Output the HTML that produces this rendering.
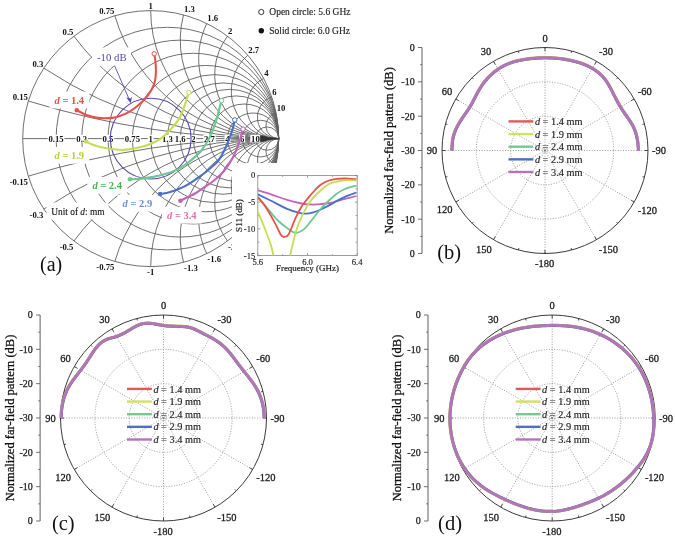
<!DOCTYPE html>
<html><head><meta charset="utf-8"><style>
html,body{margin:0;padding:0;background:#fff;}
svg{display:block;will-change:transform;}
</style></head><body>
<svg width="675" height="538" viewBox="0 0 675 538">
<rect width="675" height="538" fill="#fff"/>
<g fill="none" stroke="#606060" stroke-width="0.9">
<circle cx="150.7" cy="138.6" r="128.0"/>
<line x1="22.69999999999999" y1="138.6" x2="278.7" y2="138.6"/>
<circle cx="167.4" cy="138.6" r="111.3"/>
<circle cx="180.24" cy="138.6" r="98.46"/>
<circle cx="193.37" cy="138.6" r="85.33"/>
<circle cx="205.56" cy="138.6" r="73.14"/>
<circle cx="214.7" cy="138.6" r="64"/>
<circle cx="223.05" cy="138.6" r="55.65"/>
<circle cx="229.47" cy="138.6" r="49.23"/>
<circle cx="236.03" cy="138.6" r="42.67"/>
<circle cx="244.11" cy="138.6" r="34.59"/>
<circle cx="253.1" cy="138.6" r="25.6"/>
<circle cx="260.41" cy="138.6" r="18.29"/>
<circle cx="267.06" cy="138.6" r="11.64"/>
<path d="M28.33,101.04 A853.33,853.33 0 0 0 278.7,138.6"/>
<path d="M28.33,176.16 A853.33,853.33 0 0 1 278.7,138.6"/>
<path d="M43.84,68.14 A426.67,426.67 0 0 0 278.7,138.6"/>
<path d="M43.84,209.06 A426.67,426.67 0 0 1 278.7,138.6"/>
<path d="M73.9,36.2 A256,256 0 0 0 278.7,138.6"/>
<path d="M73.9,241 A256,256 0 0 1 278.7,138.6"/>
<path d="M114.86,15.72 A170.67,170.67 0 0 0 278.7,138.6"/>
<path d="M114.86,261.48 A170.67,170.67 0 0 1 278.7,138.6"/>
<path d="M150.7,10.6 A128,128 0 0 0 278.7,138.6"/>
<path d="M150.7,266.6 A128,128 0 0 1 278.7,138.6"/>
<path d="M183.53,14.88 A98.46,98.46 0 0 0 278.7,138.6"/>
<path d="M183.53,262.32 A98.46,98.46 0 0 1 278.7,138.6"/>
<path d="M206.79,23.54 A80,80 0 0 0 278.7,138.6"/>
<path d="M206.79,253.66 A80,80 0 0 1 278.7,138.6"/>
<path d="M227.5,36.2 A64,64 0 0 0 278.7,138.6"/>
<path d="M227.5,241 A64,64 0 0 1 278.7,138.6"/>
<path d="M247.82,55.22 A47.41,47.41 0 0 0 278.7,138.6"/>
<path d="M247.82,221.98 A47.41,47.41 0 0 1 278.7,138.6"/>
<path d="M263.64,78.36 A32,32 0 0 0 278.7,138.6"/>
<path d="M263.64,198.84 A32,32 0 0 1 278.7,138.6"/>
<path d="M271.78,97.09 A21.33,21.33 0 0 0 278.7,138.6"/>
<path d="M271.78,180.11 A21.33,21.33 0 0 1 278.7,138.6"/>
<path d="M276.17,113.25 A12.8,12.8 0 0 0 278.7,138.6"/>
<path d="M276.17,163.95 A12.8,12.8 0 0 1 278.7,138.6"/>
</g>
<g font-family="'Liberation Serif',serif">
<text x="27.83" y="99.54" text-anchor="end" font-size="8.7" font-weight="bold" fill="#111" >0.15</text>
<text x="43.34" y="66.64" text-anchor="end" font-size="8.7" font-weight="bold" fill="#111" >0.3</text>
<text x="73.4" y="34.7" text-anchor="end" font-size="8.7" font-weight="bold" fill="#111" >0.5</text>
<text x="114.36" y="14.22" text-anchor="end" font-size="8.7" font-weight="bold" fill="#111" >0.75</text>
<text x="150.7" y="8.6" text-anchor="middle" font-size="8.7" font-weight="bold" fill="#111" >1</text>
<text x="184.03" y="12.38" text-anchor="start" font-size="8.7" font-weight="bold" fill="#111" >1.3</text>
<text x="207.29" y="21.04" text-anchor="start" font-size="8.7" font-weight="bold" fill="#111" >1.6</text>
<text x="228" y="33.7" text-anchor="start" font-size="8.7" font-weight="bold" fill="#111" >2</text>
<text x="248.32" y="52.72" text-anchor="start" font-size="8.7" font-weight="bold" fill="#111" >2.7</text>
<text x="264.14" y="75.86" text-anchor="start" font-size="8.7" font-weight="bold" fill="#111" >4</text>
<text x="272.28" y="94.59" text-anchor="start" font-size="8.7" font-weight="bold" fill="#111" >6</text>
<text x="276.67" y="110.75" text-anchor="start" font-size="8.7" font-weight="bold" fill="#111" >10</text>
<text x="27.83" y="184.66" text-anchor="end" font-size="8.7" font-weight="bold" fill="#111" >-0.15</text>
<text x="43.34" y="217.56" text-anchor="end" font-size="8.7" font-weight="bold" fill="#111" >-0.3</text>
<text x="73.4" y="249.5" text-anchor="end" font-size="8.7" font-weight="bold" fill="#111" >-0.5</text>
<text x="114.36" y="269.98" text-anchor="end" font-size="8.7" font-weight="bold" fill="#111" >-0.75</text>
<text x="150.7" y="275.1" text-anchor="middle" font-size="8.7" font-weight="bold" fill="#111" >-1</text>
<text x="184.03" y="270.82" text-anchor="start" font-size="8.7" font-weight="bold" fill="#111" >-1.3</text>
<text x="207.29" y="262.16" text-anchor="start" font-size="8.7" font-weight="bold" fill="#111" >-1.6</text>
<text x="228" y="249.5" text-anchor="start" font-size="8.7" font-weight="bold" fill="#111" >-2</text>
<text x="248.32" y="230.48" text-anchor="start" font-size="8.7" font-weight="bold" fill="#111" >-2.7</text>
<rect x="47.69" y="134.8" width="16.8" height="7.6" fill="#fff"/>
<text x="56.09" y="141.7" text-anchor="middle" font-size="8.7" font-weight="bold" fill="#111" >0.15</text>
<rect x="75.55" y="134.8" width="12.45" height="7.6" fill="#fff"/>
<text x="81.78" y="141.7" text-anchor="middle" font-size="8.7" font-weight="bold" fill="#111" >0.3</text>
<rect x="101.81" y="134.8" width="12.45" height="7.6" fill="#fff"/>
<text x="108.03" y="141.7" text-anchor="middle" font-size="8.7" font-weight="bold" fill="#111" >0.5</text>
<rect x="124.01" y="134.8" width="16.8" height="7.6" fill="#fff"/>
<text x="132.41" y="141.7" text-anchor="middle" font-size="8.7" font-weight="bold" fill="#111" >0.75</text>
<rect x="147.72" y="134.8" width="5.95" height="7.6" fill="#fff"/>
<text x="150.7" y="141.7" text-anchor="middle" font-size="8.7" font-weight="bold" fill="#111" >1</text>
<rect x="161.17" y="134.8" width="12.45" height="7.6" fill="#fff"/>
<text x="167.4" y="141.7" text-anchor="middle" font-size="8.7" font-weight="bold" fill="#111" >1.3</text>
<rect x="174.01" y="134.8" width="12.45" height="7.6" fill="#fff"/>
<text x="180.24" y="141.7" text-anchor="middle" font-size="8.7" font-weight="bold" fill="#111" >1.6</text>
<rect x="190.39" y="134.8" width="5.95" height="7.6" fill="#fff"/>
<text x="193.37" y="141.7" text-anchor="middle" font-size="8.7" font-weight="bold" fill="#111" >2</text>
<rect x="203.29" y="134.8" width="12.45" height="7.6" fill="#fff"/>
<text x="209.51" y="141.7" text-anchor="middle" font-size="8.7" font-weight="bold" fill="#111" >2.7</text>
<rect x="224.52" y="134.8" width="5.95" height="7.6" fill="#fff"/>
<text x="227.5" y="141.7" text-anchor="middle" font-size="8.7" font-weight="bold" fill="#111" >4</text>
<rect x="239.15" y="134.8" width="5.95" height="7.6" fill="#fff"/>
<text x="242.13" y="141.7" text-anchor="middle" font-size="8.7" font-weight="bold" fill="#111" >6</text>
<rect x="250.28" y="134.8" width="10.3" height="7.6" fill="#fff"/>
<text x="255.43" y="141.7" text-anchor="middle" font-size="8.7" font-weight="bold" fill="#111" >10</text>
</g>
<path d="M259.8,135.2 L263.5,135.6 L268,137.2 L278.6,138.4 L278.6,138.9 L268,140.1 L263.5,141.7 L259.8,142.1 Z" fill="#222" fill-opacity="0.75"/>
<circle cx="150.7" cy="138.6" r="40.4" fill="none" stroke="#5a48ac" stroke-width="1.1"/>
<rect x="92" y="47.5" width="39" height="18.5" fill="#fff"/>
<text x="97" y="60.5" font-size="10.8" fill="#5a48ac" font-family="'Liberation Serif',serif">-10 dB</text>
<line x1="114.5" y1="65.5" x2="129" y2="99" stroke="#5a48ac" stroke-width="0.9"/>
<path d="M130.6,103.2 L126.3,97.6 L130.6,98.6 L132.2,96.6 Z" fill="#5a48ac"/>
<rect x="49.5" y="91.6" width="39.8" height="16.8" fill="#fff"/>
<text x="54.5" y="103.7" font-size="10.5" font-weight="bold" fill="#e8504a" font-family="'Liberation Serif',serif"><tspan font-style="italic">d</tspan> = 1.4</text>
<rect x="49.5" y="146.9" width="39.8" height="16.8" fill="#fff"/>
<text x="54.5" y="159" font-size="10.5" font-weight="bold" fill="#b8d040" font-family="'Liberation Serif',serif"><tspan font-style="italic">d</tspan> = 1.9</text>
<rect x="87.4" y="177" width="39.8" height="16.8" fill="#fff"/>
<text x="92.4" y="189.1" font-size="10.5" font-weight="bold" fill="#46b04c" font-family="'Liberation Serif',serif"><tspan font-style="italic">d</tspan> = 2.4</text>
<rect x="117.6" y="194.8" width="39.8" height="16.8" fill="#fff"/>
<text x="122.6" y="206.9" font-size="10.5" font-weight="bold" fill="#6f8fd6" font-family="'Liberation Serif',serif"><tspan font-style="italic">d</tspan> = 2.9</text>
<rect x="162" y="206.8" width="39.8" height="16.8" fill="#fff"/>
<text x="167" y="218.9" font-size="10.5" font-weight="bold" fill="#e070b4" font-family="'Liberation Serif',serif"><tspan font-style="italic">d</tspan> = 3.4</text>
<rect x="46.5" y="202.5" width="62" height="17" fill="#fff"/>
<text x="51.2" y="214.8" font-size="9.4" fill="#222" stroke="#222" stroke-width="0.15" font-family="'Liberation Serif',serif">Unit of <tspan font-style="italic">d</tspan>: mm</text>
<path d="M154.2,53.7 C154.42,55.08 155.22,58.95 155.5,62 C155.78,65.05 155.98,68.83 155.9,72 C155.82,75.17 155.6,78.28 155,81 C154.4,83.72 153.38,86.05 152.3,88.3 C151.22,90.55 149.8,92.62 148.5,94.5 C147.2,96.38 146.35,97.68 144.5,99.6 C142.65,101.52 139.82,104.05 137.4,106 C134.98,107.95 132.73,109.7 130,111.3 C127.27,112.9 124,114.5 121,115.6 C118,116.7 115.87,117.52 112,117.9 C108.13,118.28 102.05,118.38 97.8,117.9 C93.55,117.42 90,116.27 86.5,115 C83,113.73 78.42,111.08 76.8,110.3" fill="none" stroke="#e8504a" stroke-width="2.1" stroke-linecap="round"/>
<circle cx="154.2" cy="53.7" r="2.2" fill="#fff" stroke="#e8504a" stroke-width="1"/>
<circle cx="76.8" cy="110.3" r="2.3" fill="#e8504a"/>
<path d="M188.8,92.5 C188.45,93.62 187.65,96.3 186.7,99.2 C185.75,102.1 184.58,106.33 183.1,109.9 C181.62,113.47 180.17,117.05 177.8,120.6 C175.43,124.15 171.87,128.1 168.9,131.2 C165.93,134.3 162.97,137.12 160,139.2 C157.03,141.28 154.65,142.3 151.1,143.7 C147.55,145.1 143.15,146.57 138.7,147.6 C134.25,148.63 128.85,149.67 124.4,149.9 C119.95,150.13 115.85,149.45 112,149 C108.15,148.55 104.57,147.93 101.3,147.2 C98.03,146.47 94.92,145.55 92.4,144.6 C89.88,143.65 87.23,142.02 86.2,141.5" fill="none" stroke="#c8dc50" stroke-width="2.1" stroke-linecap="round"/>
<circle cx="188.8" cy="92.5" r="2.2" fill="#fff" stroke="#c8dc50" stroke-width="1"/>
<circle cx="86.2" cy="141.5" r="2.3" fill="#c8dc50"/>
<path d="M221.5,100.6 C221.18,101.75 220.52,104.08 219.6,107.5 C218.68,110.92 217.62,116.2 216,121.1 C214.38,126 212.4,131.92 209.9,136.9 C207.4,141.88 204.32,146.98 201,151 C197.68,155.02 193.55,158.12 190,161 C186.45,163.88 183.03,166.38 179.7,168.3 C176.37,170.22 172.73,171.48 170,172.5 C167.27,173.52 166.38,173.63 163.3,174.4 C160.22,175.17 155.45,176.35 151.5,177.1 C147.55,177.85 143.18,178.55 139.6,178.9 C136.02,179.25 131.6,179.15 130,179.2" fill="none" stroke="#6cc890" stroke-width="2.1" stroke-linecap="round"/>
<circle cx="221.5" cy="100.6" r="2.2" fill="#fff" stroke="#6cc890" stroke-width="1"/>
<circle cx="130" cy="179.2" r="2.3" fill="#6cc890"/>
<path d="M234.8,119.9 C234.28,121.92 233.23,127.37 231.7,132 C230.17,136.63 227.82,142.95 225.6,147.7 C223.38,152.45 221,157.03 218.4,160.5 C215.8,163.97 212.75,166.08 210,168.5 C207.25,170.92 205.23,172.53 201.9,175 C198.57,177.47 193.97,180.92 190,183.3 C186.03,185.68 181.55,187.82 178.1,189.3 C174.65,190.78 172.3,191.42 169.3,192.2 C166.3,192.98 161.63,193.7 160.1,194" fill="none" stroke="#4a70c8" stroke-width="2.1" stroke-linecap="round"/>
<circle cx="234.8" cy="119.9" r="2.2" fill="#fff" stroke="#4a70c8" stroke-width="1"/>
<circle cx="160.1" cy="194" r="2.3" fill="#4a70c8"/>
<path d="M243,129.1 C242.33,131.4 240.68,138.18 239,142.9 C237.32,147.62 235.4,152.72 232.9,157.4 C230.4,162.08 227.15,167.15 224,171 C220.85,174.85 217.2,177.87 214,180.5 C210.8,183.13 207.82,184.72 204.8,186.8 C201.78,188.88 198.87,191.23 195.9,193 C192.93,194.77 189.58,196.12 187,197.4 C184.42,198.68 181.5,200.15 180.4,200.7" fill="none" stroke="#c464b8" stroke-width="2.1" stroke-linecap="round"/>
<circle cx="243" cy="129.1" r="2.2" fill="#fff" stroke="#c464b8" stroke-width="1"/>
<circle cx="180.4" cy="200.7" r="2.3" fill="#c464b8"/>
<circle cx="261.3" cy="12" r="2.6" fill="#fff" stroke="#222" stroke-width="0.9"/>
<circle cx="261.3" cy="30.7" r="2.7" fill="#111"/>
<text x="269.3" y="15.2" font-size="9.5" fill="#222" stroke="#222" stroke-width="0.15" font-family="'Liberation Serif',serif">Open circle:  5.6 GHz</text>
<text x="269.3" y="33.9" font-size="9.5" fill="#222" stroke="#222" stroke-width="0.15" font-family="'Liberation Serif',serif">Solid circle: 6.0 GHz</text>
<rect x="232" y="163" width="132" height="113" fill="#fff"/>
<rect x="257.8" y="175.4" width="99.4" height="80.2" fill="none" stroke="#888" stroke-width="0.8"/>
<path d="M257.8,175.4 h2.5 M357.2,175.4 h-2.5 M257.8,202.13 h2.5 M357.2,202.13 h-2.5 M257.8,228.87 h2.5 M357.2,228.87 h-2.5 M257.8,255.6 h2.5 M357.2,255.6 h-2.5 M257.8,188.77 h1.5 M357.2,188.77 h-1.5 M257.8,215.5 h1.5 M357.2,215.5 h-1.5 M257.8,242.23 h1.5 M357.2,242.23 h-1.5 M257.8,255.6 v-2.5 M257.8,175.4 v2.5 M307.5,255.6 v-2.5 M307.5,175.4 v2.5 M357.2,255.6 v-2.5 M357.2,175.4 v2.5 M282.65,255.6 v-1.5 M282.65,175.4 v1.5 M332.35,255.6 v-1.5 M332.35,175.4 v1.5" stroke="#888" stroke-width="0.8" fill="none"/>
<text x="255.3" y="178.4" text-anchor="end" font-size="8.6" fill="#222" stroke="#222" stroke-width="0.15" font-family="'Liberation Serif',serif">0</text>
<text x="255.3" y="205.13" text-anchor="end" font-size="8.6" fill="#222" stroke="#222" stroke-width="0.15" font-family="'Liberation Serif',serif">-5</text>
<text x="255.3" y="231.87" text-anchor="end" font-size="8.6" fill="#222" stroke="#222" stroke-width="0.15" font-family="'Liberation Serif',serif">-10</text>
<text x="255.3" y="258.6" text-anchor="end" font-size="8.6" fill="#222" stroke="#222" stroke-width="0.15" font-family="'Liberation Serif',serif">-15</text>
<text x="257.8" y="264.6" text-anchor="middle" font-size="8.6" fill="#222" stroke="#222" stroke-width="0.15" font-family="'Liberation Serif',serif">5.6</text>
<text x="307.5" y="264.6" text-anchor="middle" font-size="8.6" fill="#222" stroke="#222" stroke-width="0.15" font-family="'Liberation Serif',serif">6.0</text>
<text x="357.2" y="264.6" text-anchor="middle" font-size="8.6" fill="#222" stroke="#222" stroke-width="0.15" font-family="'Liberation Serif',serif">6.4</text>
<text x="307.5" y="271.3" text-anchor="middle" font-size="9.0" fill="#222" stroke="#222" stroke-width="0.2" font-family="'Liberation Serif',serif">Frequency (GHz)</text>
<text transform="translate(241.6,215.5) rotate(-90)" text-anchor="middle" font-size="9.1" fill="#222" stroke="#222" stroke-width="0.2" font-family="'Liberation Serif',serif">S11 (dB)</text>
<clipPath id="ic"><rect x="257.8" y="175.4" width="99.4" height="80.2"/></clipPath>
<g clip-path="url(#ic)">
<path d="M257.9,190.4 C260.08,191.07 266.15,192.83 271,194.4 C275.85,195.97 282.28,198.37 287,199.8 C291.72,201.23 295.7,202.23 299.3,203 C302.9,203.77 305.5,204.17 308.6,204.4 C311.7,204.63 314.33,204.63 317.9,204.4 C321.47,204.17 326.82,203.55 330,203 C333.18,202.45 334.5,201.78 337,201.1 C339.5,200.42 341.75,199.75 345,198.9 C348.25,198.05 354.58,196.48 356.5,196" fill="none" stroke="#c464b8" stroke-width="1.8"/>
<path d="M257.9,194.4 C260.08,195.47 266.15,198.4 271,200.8 C275.85,203.2 282.28,206.8 287,208.8 C291.72,210.8 296.17,211.98 299.3,212.8 C302.43,213.62 303.47,213.78 305.8,213.7 C308.13,213.62 310.82,213 313.3,212.3 C315.78,211.6 317.92,210.73 320.7,209.5 C323.48,208.27 327.28,206.35 330,204.9 C332.72,203.45 334.5,202.15 337,200.8 C339.5,199.45 341.75,198.18 345,196.8 C348.25,195.42 354.58,193.22 356.5,192.5" fill="none" stroke="#4a70c8" stroke-width="1.8"/>
<path d="M257.9,196.8 C259.55,198.8 264.55,204.93 267.8,208.8 C271.05,212.67 274.2,216.8 277.4,220 C280.6,223.2 283.97,225.87 287,228 C290.03,230.13 292.77,232.62 295.6,232.8 C298.43,232.98 301.52,230.97 304,229.1 C306.48,227.23 308.33,224.23 310.5,221.6 C312.67,218.97 314.83,215.93 317,213.3 C319.17,210.67 321.33,208.1 323.5,205.8 C325.67,203.5 327.75,201.55 330,199.5 C332.25,197.45 334.5,195.25 337,193.5 C339.5,191.75 341.75,190.32 345,189 C348.25,187.68 354.58,186.17 356.5,185.6" fill="none" stroke="#6cc890" stroke-width="1.8"/>
<path d="M257.9,197.6 C259.02,198.93 261.88,201.6 264.6,205.6 C267.32,209.6 271.53,216.8 274.2,221.6 C276.87,226.4 279,231.87 280.6,234.4 C282.2,236.93 282.47,236.8 283.8,236.8 C285.13,236.8 286.63,237.55 288.6,234.4 C290.57,231.25 293.35,222.67 295.6,217.9 C297.85,213.13 299.93,209.22 302.1,205.8 C304.27,202.38 306.43,200.03 308.6,197.4 C310.77,194.77 313.03,192.15 315.1,190 C317.17,187.85 318.68,186.08 321,184.5 C323.32,182.92 326.33,181.43 329,180.5 C331.67,179.57 334.33,179.23 337,178.9 C339.67,178.57 341.75,178.45 345,178.5 C348.25,178.55 354.58,179.08 356.5,179.2" fill="none" stroke="#e8504a" stroke-width="1.8"/>
<path d="M257.9,212 C259.02,214.67 262.42,222.4 264.6,228 C266.78,233.6 269.53,241.02 271,245.6 C272.47,250.18 272.82,252.77 273.4,255.5 C273.98,258.23 274.32,260.92 274.5,262" fill="none" stroke="#c8dc50" stroke-width="1.8"/>
<path d="M289.3,262 C289.45,260.92 289.47,259.17 290.2,255.5 C290.93,251.83 292.5,244.72 293.7,240 C294.9,235.28 295.82,231.65 297.4,227.2 C298.98,222.75 301.07,217.58 303.2,213.3 C305.33,209.02 307.32,205.3 310.2,201.5 C313.08,197.7 317.37,193.42 320.5,190.5 C323.63,187.58 326.25,185.5 329,184 C331.75,182.5 334.33,182.12 337,181.5 C339.67,180.88 341.75,180.47 345,180.3 C348.25,180.13 354.58,180.47 356.5,180.5" fill="none" stroke="#c8dc50" stroke-width="1.8"/>
</g>
<text x="40" y="270.5" font-size="20" fill="#111" font-family="'Liberation Serif',serif">(a)</text>
<g font-family="'Liberation Serif',serif">
<g fill="none" stroke="#7a7a7a" stroke-width="0.75" stroke-dasharray="1,1.6">
<circle cx="545" cy="150.5" r="34.33"/>
<circle cx="545" cy="150.5" r="68.67"/>
<circle cx="545" cy="150.5" r="2.2"/>
<line x1="545" y1="150.5" x2="545" y2="47.5"/>
<line x1="545" y1="150.5" x2="596.5" y2="61.3"/>
<line x1="545" y1="150.5" x2="634.2" y2="99"/>
<line x1="545" y1="150.5" x2="648" y2="150.5"/>
<line x1="545" y1="150.5" x2="634.2" y2="202"/>
<line x1="545" y1="150.5" x2="596.5" y2="239.7"/>
<line x1="545" y1="150.5" x2="545" y2="253.5"/>
<line x1="545" y1="150.5" x2="493.5" y2="239.7"/>
<line x1="545" y1="150.5" x2="455.8" y2="202"/>
<line x1="545" y1="150.5" x2="442" y2="150.5"/>
<line x1="545" y1="150.5" x2="455.8" y2="99"/>
<line x1="545" y1="150.5" x2="493.5" y2="61.3"/>
</g>
<circle cx="545" cy="150.5" r="103" fill="none" stroke="#3a3a3a" stroke-width="1.0"/>
<path d="M545,47.5 L545,51 M571.66,51.01 L571.14,52.94 M596.5,61.3 L594.75,64.33 M617.83,77.67 L616.42,79.08 M634.2,99 L631.17,100.75 M644.49,123.84 L642.56,124.36 M648,150.5 L644.5,150.5 M644.49,177.16 L642.56,176.64 M634.2,202 L631.17,200.25 M617.83,223.33 L616.42,221.92 M596.5,239.7 L594.75,236.67 M571.66,249.99 L571.14,248.06 M545,253.5 L545,250 M518.34,249.99 L518.86,248.06 M493.5,239.7 L495.25,236.67 M472.17,223.33 L473.58,221.92 M455.8,202 L458.83,200.25 M445.51,177.16 L447.44,176.64 M442,150.5 L445.5,150.5 M445.51,123.84 L447.44,124.36 M455.8,99 L458.83,100.75 M472.17,77.67 L473.58,79.08 M493.5,61.3 L495.25,64.33 M518.34,51.01 L518.86,52.94" stroke="#333" stroke-width="0.9"/>
<text x="545" y="41.6" text-anchor="middle" font-size="10.5" fill="#1a1a1a" stroke="#1a1a1a" stroke-width="0.28">0</text>
<text x="486.1" y="55.2" text-anchor="middle" font-size="10.5" fill="#1a1a1a" stroke="#1a1a1a" stroke-width="0.28">30</text>
<text x="446.9" y="94.9" text-anchor="middle" font-size="10.5" fill="#1a1a1a" stroke="#1a1a1a" stroke-width="0.28">60</text>
<text x="432" y="154.1" text-anchor="middle" font-size="10.5" fill="#1a1a1a" stroke="#1a1a1a" stroke-width="0.28">90</text>
<text x="444.6" y="213.4" text-anchor="middle" font-size="10.5" fill="#1a1a1a" stroke="#1a1a1a" stroke-width="0.28">120</text>
<text x="483.8" y="253.2" text-anchor="middle" font-size="10.5" fill="#1a1a1a" stroke="#1a1a1a" stroke-width="0.28">150</text>
<text x="544.65" y="267.1" text-anchor="middle" font-size="10.5" fill="#1a1a1a" stroke="#1a1a1a" stroke-width="0.28">-180</text>
<text x="608.3" y="253.2" text-anchor="middle" font-size="10.5" fill="#1a1a1a" stroke="#1a1a1a" stroke-width="0.28">-150</text>
<text x="647.3" y="213.6" text-anchor="middle" font-size="10.5" fill="#1a1a1a" stroke="#1a1a1a" stroke-width="0.28">-120</text>
<text x="658.9" y="154.1" text-anchor="middle" font-size="10.5" fill="#1a1a1a" stroke="#1a1a1a" stroke-width="0.28">-90</text>
<text x="644.8" y="94.9" text-anchor="middle" font-size="10.5" fill="#1a1a1a" stroke="#1a1a1a" stroke-width="0.28">-60</text>
<text x="605.9" y="55.2" text-anchor="middle" font-size="10.5" fill="#1a1a1a" stroke="#1a1a1a" stroke-width="0.28">-30</text>
<line x1="422" y1="47.5" x2="422" y2="253.5" stroke="#606060" stroke-width="1"/>
<path d="M418,47.5 H422 M420.2,64.67 H422 M418,81.83 H422 M420.2,99 H422 M418,116.17 H422 M420.2,133.33 H422 M418,150.5 H422 M420.2,167.67 H422 M418,184.83 H422 M420.2,202 H422 M418,219.17 H422 M420.2,236.33 H422 M418,253.5 H422" stroke="#606060" stroke-width="0.9"/>
<text x="414.7" y="50.9" text-anchor="end" font-size="10" fill="#1a1a1a" stroke="#1a1a1a" stroke-width="0.25">0</text>
<text x="414.7" y="85.23" text-anchor="end" font-size="10" fill="#1a1a1a" stroke="#1a1a1a" stroke-width="0.25">-10</text>
<text x="414.7" y="119.57" text-anchor="end" font-size="10" fill="#1a1a1a" stroke="#1a1a1a" stroke-width="0.25">-20</text>
<text x="414.7" y="153.9" text-anchor="end" font-size="10" fill="#1a1a1a" stroke="#1a1a1a" stroke-width="0.25">-30</text>
<text x="414.7" y="188.23" text-anchor="end" font-size="10" fill="#1a1a1a" stroke="#1a1a1a" stroke-width="0.25">-20</text>
<text x="414.7" y="222.57" text-anchor="end" font-size="10" fill="#1a1a1a" stroke="#1a1a1a" stroke-width="0.25">-10</text>
<text x="414.7" y="256.9" text-anchor="end" font-size="10" fill="#1a1a1a" stroke="#1a1a1a" stroke-width="0.25">0</text>
<text transform="translate(393.4,150.5) rotate(-90)" text-anchor="middle" font-size="12.5" fill="#111" stroke="#111" stroke-width="0.28">Normalized far-field pattern (dB)</text>
<text x="437.3" y="259" font-size="20.5" fill="#111">(b)</text>
<line x1="508.5" y1="121.4" x2="533.4" y2="121.4" stroke="#e05a5a" stroke-width="2.4"/>
<text x="534.9" y="125" font-size="10.3" fill="#222" stroke="#222" stroke-width="0.15"><tspan font-style="italic">d</tspan> = 1.4 mm</text>
<line x1="508.5" y1="134.05" x2="533.4" y2="134.05" stroke="#d2e060" stroke-width="2.4"/>
<text x="534.9" y="137.65" font-size="10.3" fill="#222" stroke="#222" stroke-width="0.15"><tspan font-style="italic">d</tspan> = 1.9 mm</text>
<line x1="508.5" y1="146.7" x2="533.4" y2="146.7" stroke="#76c890" stroke-width="2.4"/>
<text x="534.9" y="150.3" font-size="10.3" fill="#222" stroke="#222" stroke-width="0.15"><tspan font-style="italic">d</tspan> = 2.4 mm</text>
<line x1="508.5" y1="159.35" x2="533.4" y2="159.35" stroke="#4e6ec0" stroke-width="2.4"/>
<text x="534.9" y="162.95" font-size="10.3" fill="#222" stroke="#222" stroke-width="0.15"><tspan font-style="italic">d</tspan> = 2.9 mm</text>
<line x1="508.5" y1="172" x2="533.4" y2="172" stroke="#b474b8" stroke-width="2.4"/>
<text x="534.9" y="175.6" font-size="10.3" fill="#222" stroke="#222" stroke-width="0.15"><tspan font-style="italic">d</tspan> = 3.4 mm</text>
<path d="M639,150.5 638.9,149.27 638.8,148.04 638.7,146.82 638.58,145.6 638.46,144.37 638.32,143.16 638.16,141.94 637.99,140.73 637.8,139.52 637.58,138.31 637.34,137.11 637.08,135.92 636.79,134.73 636.46,133.55 636.11,132.38 635.72,131.22 635.29,130.07 634.83,128.93 634.33,127.81 633.79,126.71 633.23,125.62 632.64,124.54 632.03,123.48 631.4,122.43 630.75,121.39 630.08,120.37 629.41,119.36 628.73,118.36 628.04,117.37 627.36,116.39 626.67,115.41 625.99,114.44 625.31,113.48 624.65,112.51 623.99,111.55 623.35,110.58 622.72,109.61 622.1,108.64 621.49,107.66 620.9,106.68 620.31,105.7 619.73,104.7 619.16,103.71 618.59,102.71 618.04,101.7 617.48,100.68 616.93,99.66 616.39,98.63 615.85,97.6 615.31,96.55 614.77,95.5 614.23,94.44 613.69,93.37 613.15,92.29 612.61,91.21 612.06,90.12 611.49,89.03 610.92,87.94 610.34,86.85 609.73,85.77 609.11,84.68 608.47,83.61 607.81,82.55 607.13,81.5 606.41,80.47 605.68,79.46 604.91,78.47 604.12,77.5 603.29,76.56 602.44,75.65 601.56,74.76 600.65,73.9 599.72,73.07 598.77,72.27 597.79,71.5 596.79,70.75 595.78,70.02 594.74,69.33 593.69,68.66 592.62,68.01 591.54,67.39 590.45,66.8 589.34,66.23 588.22,65.68 587.09,65.16 585.94,64.66 584.79,64.18 583.64,63.72 582.47,63.29 581.3,62.87 580.12,62.48 578.93,62.1 577.75,61.74 576.55,61.4 575.36,61.07 574.16,60.76 572.96,60.47 571.75,60.19 570.55,59.92 569.34,59.67 568.13,59.43 566.92,59.2 565.71,58.99 564.49,58.8 563.28,58.61 562.06,58.44 560.85,58.28 559.63,58.13 558.41,58 557.19,57.88 555.97,57.77 554.76,57.68 553.54,57.59 552.32,57.52 551.1,57.46 549.88,57.42 548.66,57.38 547.44,57.36 546.22,57.34 545,57.34 543.78,57.35 542.56,57.37 541.34,57.41 540.12,57.45 538.9,57.5 537.69,57.57 536.47,57.64 535.25,57.73 534.03,57.83 532.81,57.94 531.6,58.06 530.38,58.19 529.16,58.33 527.95,58.49 526.73,58.65 525.51,58.82 524.3,59.01 523.08,59.21 521.87,59.43 520.66,59.66 519.45,59.9 518.24,60.17 517.04,60.45 515.84,60.75 514.64,61.07 513.45,61.42 512.27,61.78 511.09,62.17 509.93,62.59 508.77,63.03 507.62,63.49 506.48,63.98 505.35,64.5 504.24,65.04 503.14,65.61 502.05,66.2 500.97,66.81 499.91,67.45 498.86,68.12 497.83,68.8 496.81,69.51 495.81,70.23 494.83,70.98 493.86,71.75 492.91,72.54 491.97,73.35 491.06,74.17 490.16,75.02 489.28,75.88 488.41,76.76 487.57,77.65 486.74,78.56 485.94,79.48 485.15,80.42 484.38,81.37 483.62,82.33 482.89,83.31 482.17,84.29 481.48,85.29 480.8,86.3 480.13,87.31 479.49,88.33 478.87,89.37 478.26,90.4 477.67,91.45 477.09,92.5 476.53,93.55 475.97,94.6 475.43,95.66 474.89,96.71 474.36,97.75 473.83,98.79 473.3,99.83 472.77,100.86 472.24,101.88 471.69,102.89 471.14,103.9 470.57,104.89 469.99,105.88 469.4,106.85 468.78,107.82 468.16,108.78 467.52,109.74 466.87,110.69 466.22,111.65 465.55,112.61 464.89,113.57 464.21,114.53 463.54,115.5 462.87,116.48 462.19,117.46 461.53,118.46 460.87,119.46 460.21,120.48 459.57,121.5 458.94,122.54 458.33,123.59 457.73,124.65 457.15,125.72 456.59,126.81 456.05,127.91 455.54,129.02 455.05,130.15 454.59,131.28 454.16,132.43 453.76,133.59 453.39,134.76 453.05,135.94 452.75,137.12 452.49,138.32 452.26,139.52 452.08,140.73 451.94,141.95 451.83,143.17 451.74,144.39 451.66,145.61 451.58,146.83 451.49,148.05 451.38,149.27 451.23,150.5" fill="none" stroke="#e05a5a" stroke-width="2.4" stroke-linejoin="round"/>
<path d="M638.1,150.5 638,149.28 637.91,148.07 637.8,146.85 637.69,145.64 637.56,144.43 637.42,143.23 637.27,142.02 637.1,140.82 636.9,139.62 636.69,138.43 636.45,137.24 636.19,136.06 635.9,134.88 635.58,133.71 635.22,132.55 634.84,131.4 634.41,130.27 633.95,129.14 633.45,128.04 632.92,126.94 632.36,125.86 631.78,124.8 631.17,123.74 630.54,122.71 629.89,121.68 629.24,120.67 628.57,119.67 627.89,118.68 627.21,117.7 626.52,116.73 625.84,115.77 625.17,114.81 624.49,113.85 623.83,112.9 623.18,111.94 622.55,110.99 621.92,110.03 621.31,109.07 620.71,108.1 620.12,107.13 619.54,106.16 618.96,105.18 618.4,104.19 617.84,103.2 617.29,102.2 616.74,101.19 616.2,100.18 615.66,99.16 615.13,98.13 614.59,97.1 614.06,96.06 613.53,95 613,93.95 612.47,92.88 611.93,91.8 611.39,90.73 610.83,89.64 610.27,88.56 609.69,87.48 609.1,86.4 608.49,85.33 607.85,84.26 607.2,83.21 606.52,82.17 605.82,81.15 605.09,80.14 604.34,79.16 603.55,78.2 602.73,77.27 601.89,76.36 601.02,75.48 600.12,74.63 599.2,73.81 598.26,73.01 597.29,72.24 596.3,71.5 595.3,70.78 594.27,70.09 593.23,69.43 592.17,68.79 591.1,68.18 590.02,67.59 588.92,67.02 587.81,66.48 586.69,65.97 585.56,65.47 584.42,65 583.27,64.55 582.11,64.11 580.95,63.7 579.78,63.31 578.61,62.94 577.43,62.59 576.25,62.25 575.07,61.93 573.88,61.62 572.69,61.33 571.5,61.05 570.3,60.79 569.11,60.54 567.91,60.3 566.71,60.08 565.51,59.87 564.31,59.68 563.1,59.49 561.9,59.32 560.69,59.17 559.49,59.02 558.28,58.89 557.08,58.77 555.87,58.67 554.66,58.57 553.45,58.49 552.25,58.42 551.04,58.36 549.83,58.32 548.62,58.28 547.42,58.26 546.21,58.24 545,58.24 543.79,58.25 542.58,58.27 541.38,58.3 540.17,58.35 538.96,58.4 537.76,58.47 536.55,58.54 535.34,58.63 534.14,58.72 532.93,58.83 531.73,58.95 530.52,59.08 529.32,59.22 528.11,59.37 526.91,59.53 525.7,59.7 524.5,59.89 523.29,60.09 522.09,60.3 520.89,60.53 519.69,60.77 518.5,61.03 517.31,61.31 516.12,61.61 514.93,61.93 513.75,62.27 512.58,62.63 511.42,63.01 510.26,63.42 509.11,63.86 507.97,64.32 506.85,64.8 505.73,65.32 504.63,65.85 503.53,66.41 502.45,67 501.39,67.61 500.34,68.24 499.3,68.9 498.28,69.58 497.27,70.28 496.28,71 495.31,71.74 494.35,72.51 493.41,73.29 492.48,74.09 491.58,74.91 490.69,75.75 489.82,76.6 488.96,77.47 488.13,78.36 487.31,79.26 486.51,80.18 485.73,81.1 484.97,82.05 484.23,83 483.5,83.97 482.79,84.95 482.1,85.93 481.43,86.93 480.78,87.94 480.14,88.95 479.53,89.98 478.93,91.01 478.34,92.04 477.77,93.08 477.22,94.13 476.67,95.17 476.14,96.21 475.61,97.25 475.08,98.29 474.56,99.32 474.04,100.35 473.51,101.37 472.99,102.38 472.45,103.38 471.9,104.38 471.34,105.36 470.77,106.34 470.18,107.3 469.57,108.26 468.95,109.21 468.32,110.16 467.68,111.1 467.02,112.05 466.37,112.99 465.7,113.94 465.04,114.9 464.37,115.86 463.7,116.82 463.03,117.8 462.37,118.78 461.71,119.77 461.06,120.78 460.42,121.79 459.8,122.82 459.19,123.85 458.59,124.91 458.02,125.97 457.46,127.04 456.93,128.13 456.42,129.23 455.93,130.35 455.47,131.47 455.04,132.61 454.64,133.75 454.27,134.91 453.94,136.08 453.64,137.25 453.38,138.44 453.16,139.63 452.98,140.83 452.83,142.03 452.72,143.24 452.64,144.45 452.56,145.66 452.48,146.86 452.39,148.07 452.28,149.29 452.13,150.5" fill="none" stroke="#d2e060" stroke-width="2.4" stroke-linejoin="round"/>
<path d="M638.8,150.5 638.7,149.27 638.6,148.05 638.5,146.83 638.38,145.61 638.26,144.39 638.12,143.17 637.96,141.96 637.79,140.75 637.6,139.54 637.38,138.34 637.15,137.14 636.88,135.95 636.59,134.76 636.26,133.59 635.91,132.42 635.52,131.26 635.09,130.11 634.63,128.98 634.13,127.86 633.6,126.76 633.04,125.67 632.45,124.6 631.84,123.54 631.21,122.49 630.56,121.46 629.9,120.44 629.22,119.43 628.54,118.43 627.86,117.44 627.17,116.46 626.49,115.49 625.81,114.52 625.13,113.56 624.47,112.6 623.81,111.63 623.17,110.67 622.54,109.7 621.93,108.73 621.32,107.76 620.72,106.78 620.14,105.8 619.56,104.81 618.99,103.82 618.43,102.82 617.87,101.81 617.32,100.8 616.77,99.78 616.23,98.75 615.69,97.71 615.15,96.67 614.61,95.62 614.08,94.56 613.54,93.5 613,92.42 612.46,91.34 611.91,90.26 611.35,89.17 610.78,88.08 610.19,86.99 609.59,85.91 608.97,84.83 608.34,83.76 607.68,82.7 606.99,81.65 606.28,80.62 605.55,79.61 604.78,78.62 603.99,77.65 603.17,76.72 602.31,75.81 601.44,74.92 600.53,74.07 599.6,73.24 598.65,72.44 597.68,71.66 596.68,70.91 595.67,70.19 594.64,69.5 593.59,68.83 592.52,68.18 591.44,67.57 590.35,66.97 589.24,66.4 588.13,65.86 587,65.34 585.86,64.84 584.71,64.36 583.55,63.91 582.39,63.47 581.22,63.06 580.04,62.66 578.86,62.29 577.68,61.93 576.49,61.59 575.29,61.26 574.1,60.95 572.9,60.66 571.69,60.38 570.49,60.11 569.29,59.86 568.08,59.62 566.87,59.4 565.66,59.19 564.45,58.99 563.24,58.81 562.03,58.64 560.81,58.48 559.6,58.33 558.38,58.2 557.17,58.08 555.95,57.97 554.74,57.88 553.52,57.79 552.3,57.72 551.08,57.66 549.87,57.62 548.65,57.58 547.43,57.56 546.22,57.54 545,57.54 543.78,57.55 542.57,57.57 541.35,57.61 540.13,57.65 538.92,57.7 537.7,57.77 536.49,57.84 535.27,57.93 534.06,58.03 532.84,58.14 531.63,58.26 530.41,58.39 529.2,58.53 527.98,58.68 526.77,58.85 525.56,59.02 524.34,59.21 523.13,59.41 521.92,59.62 520.71,59.85 519.5,60.1 518.3,60.36 517.1,60.64 515.9,60.94 514.71,61.26 513.52,61.61 512.34,61.97 511.17,62.36 510,62.77 508.84,63.21 507.7,63.67 506.56,64.16 505.44,64.68 504.32,65.22 503.22,65.79 502.14,66.38 501.06,66.99 500,67.63 498.96,68.29 497.93,68.97 496.92,69.68 495.92,70.4 494.93,71.15 493.97,71.92 493.02,72.71 492.09,73.51 491.17,74.34 490.28,75.18 489.4,76.04 488.54,76.92 487.69,77.81 486.87,78.72 486.06,79.64 485.28,80.57 484.51,81.52 483.76,82.48 483.02,83.46 482.31,84.44 481.61,85.43 480.94,86.44 480.28,87.45 479.64,88.47 479.01,89.5 478.41,90.54 477.82,91.58 477.24,92.63 476.68,93.68 476.13,94.73 475.59,95.78 475.05,96.83 474.52,97.87 474,98.91 473.47,99.95 472.94,100.97 472.4,101.99 471.86,103 471.31,104 470.74,105 470.16,105.98 469.57,106.95 468.96,107.91 468.33,108.87 467.7,109.83 467.05,110.78 466.4,111.74 465.73,112.69 465.07,113.65 464.4,114.61 463.72,115.58 463.05,116.56 462.38,117.54 461.71,118.53 461.05,119.53 460.4,120.54 459.76,121.57 459.13,122.6 458.52,123.65 457.92,124.71 457.34,125.78 456.79,126.86 456.25,127.96 455.74,129.07 455.25,130.19 454.79,131.32 454.35,132.47 453.95,133.63 453.58,134.79 453.25,135.97 452.95,137.15 452.69,138.35 452.46,139.55 452.28,140.75 452.14,141.97 452.03,143.18 451.94,144.4 451.86,145.62 451.78,146.84 451.69,148.06 451.58,149.28 451.43,150.5" fill="none" stroke="#76c890" stroke-width="2.4" stroke-linejoin="round"/>
<path d="M638.2,150.5 638.1,149.28 638.01,148.06 637.9,146.85 637.79,145.64 637.66,144.43 637.52,143.22 637.37,142.01 637.19,140.81 637,139.61 636.79,138.42 636.55,137.23 636.29,136.04 636,134.86 635.67,133.69 635.32,132.53 634.93,131.38 634.51,130.25 634.05,129.12 633.55,128.01 633.02,126.92 632.46,125.83 631.87,124.77 631.26,123.71 630.63,122.68 629.99,121.65 629.33,120.64 628.66,119.64 627.98,118.65 627.3,117.67 626.62,116.69 625.94,115.73 625.26,114.77 624.59,113.81 623.92,112.86 623.27,111.9 622.64,110.94 622.01,109.98 621.4,109.02 620.8,108.05 620.2,107.08 619.62,106.1 619.05,105.12 618.48,104.14 617.92,103.14 617.37,102.14 616.82,101.14 616.28,100.12 615.74,99.1 615.21,98.07 614.67,97.04 614.14,95.99 613.61,94.94 613.08,93.88 612.54,92.81 612.01,91.74 611.46,90.66 610.91,89.58 610.34,88.49 609.76,87.41 609.17,86.33 608.56,85.26 607.92,84.19 607.27,83.14 606.59,82.1 605.89,81.07 605.16,80.06 604.4,79.08 603.61,78.12 602.79,77.19 601.95,76.28 601.08,75.4 600.18,74.55 599.26,73.73 598.31,72.93 597.34,72.16 596.36,71.42 595.35,70.7 594.33,70.01 593.28,69.34 592.22,68.7 591.15,68.09 590.06,67.5 588.97,66.94 587.85,66.39 586.73,65.88 585.6,65.38 584.46,64.91 583.31,64.45 582.15,64.02 580.99,63.61 579.82,63.22 578.65,62.85 577.47,62.49 576.29,62.15 575.1,61.83 573.91,61.52 572.72,61.23 571.52,60.96 570.33,60.69 569.13,60.44 567.93,60.21 566.73,59.98 565.53,59.77 564.33,59.58 563.12,59.39 561.92,59.23 560.71,59.07 559.5,58.92 558.3,58.79 557.09,58.67 555.88,58.57 554.67,58.47 553.46,58.39 552.25,58.32 551.05,58.26 549.84,58.22 548.63,58.18 547.42,58.16 546.21,58.14 545,58.14 543.79,58.15 542.58,58.17 541.37,58.2 540.17,58.25 538.96,58.3 537.75,58.37 536.54,58.44 535.33,58.53 534.13,58.62 532.92,58.73 531.71,58.85 530.5,58.98 529.3,59.12 528.09,59.27 526.89,59.43 525.68,59.61 524.47,59.79 523.27,59.99 522.07,60.2 520.87,60.43 519.67,60.67 518.47,60.93 517.28,61.21 516.09,61.51 514.9,61.83 513.72,62.17 512.55,62.53 511.38,62.92 510.22,63.33 509.07,63.77 507.93,64.23 506.8,64.71 505.69,65.22 504.58,65.76 503.49,66.32 502.41,66.91 501.34,67.52 500.29,68.16 499.25,68.81 498.23,69.49 497.22,70.19 496.23,70.92 495.25,71.66 494.3,72.42 493.35,73.2 492.43,74.01 491.52,74.83 490.63,75.66 489.76,76.52 488.9,77.39 488.07,78.28 487.25,79.18 486.45,80.1 485.67,81.03 484.9,81.97 484.16,82.93 483.43,83.9 482.72,84.87 482.03,85.86 481.36,86.86 480.71,87.87 480.07,88.89 479.45,89.91 478.85,90.94 478.27,91.98 477.7,93.02 477.14,94.06 476.6,95.11 476.06,96.15 475.53,97.19 475,98.23 474.48,99.26 473.96,100.29 473.43,101.31 472.9,102.33 472.36,103.33 471.82,104.32 471.26,105.31 470.68,106.28 470.09,107.25 469.48,108.21 468.86,109.16 468.23,110.11 467.59,111.06 466.94,112 466.28,112.95 465.61,113.9 464.94,114.86 464.27,115.82 463.6,116.78 462.94,117.76 462.27,118.74 461.62,119.74 460.97,120.74 460.33,121.76 459.7,122.79 459.09,123.82 458.5,124.88 457.92,125.94 457.36,127.02 456.83,128.11 456.32,129.21 455.83,130.32 455.37,131.45 454.94,132.59 454.54,133.73 454.17,134.89 453.84,136.06 453.54,137.24 453.28,138.42 453.06,139.62 452.88,140.82 452.73,142.02 452.62,143.23 452.54,144.44 452.46,145.65 452.38,146.86 452.29,148.07 452.18,149.28 452.03,150.5" fill="none" stroke="#4e6ec0" stroke-width="2.4" stroke-linejoin="round"/>
<path d="M638.5,150.5 638.4,149.28 638.31,148.06 638.2,146.84 638.08,145.62 637.96,144.41 637.82,143.19 637.67,141.99 637.49,140.78 637.3,139.58 637.09,138.38 636.85,137.18 636.58,135.99 636.29,134.81 635.97,133.64 635.62,132.48 635.23,131.32 634.8,130.18 634.34,129.05 633.84,127.94 633.31,126.84 632.75,125.75 632.16,124.68 631.55,123.63 630.92,122.58 630.27,121.55 629.61,120.54 628.94,119.53 628.26,118.54 627.58,117.55 626.89,116.58 626.21,115.61 625.53,114.65 624.86,113.68 624.19,112.73 623.54,111.77 622.9,110.81 622.28,109.84 621.66,108.88 621.06,107.91 620.46,106.93 619.88,105.95 619.3,104.97 618.74,103.98 618.18,102.98 617.62,101.98 617.07,100.97 616.53,99.95 615.99,98.93 615.45,97.89 614.91,96.86 614.38,95.81 613.84,94.75 613.31,93.69 612.77,92.62 612.23,91.54 611.68,90.46 611.13,89.37 610.56,88.29 609.98,87.2 609.38,86.12 608.77,85.04 608.13,83.97 607.47,82.92 606.79,81.87 606.09,80.85 605.35,79.84 604.59,78.85 603.8,77.89 602.98,76.95 602.13,76.04 601.26,75.16 600.36,74.31 599.43,73.48 598.48,72.68 597.51,71.91 596.52,71.17 595.51,70.45 594.48,69.75 593.44,69.09 592.37,68.44 591.3,67.83 590.21,67.24 589.11,66.67 587.99,66.13 586.86,65.61 585.73,65.11 584.58,64.63 583.43,64.18 582.27,63.75 581.11,63.33 579.93,62.94 578.75,62.57 577.57,62.21 576.39,61.87 575.2,61.55 574,61.24 572.81,60.95 571.61,60.67 570.41,60.4 569.21,60.15 568.01,59.91 566.8,59.69 565.6,59.48 564.39,59.28 563.18,59.1 561.97,58.93 560.76,58.77 559.55,58.63 558.34,58.5 557.13,58.38 555.92,58.27 554.7,58.17 553.49,58.09 552.28,58.02 551.07,57.96 549.85,57.92 548.64,57.88 547.43,57.86 546.21,57.84 545,57.84 543.79,57.85 542.57,57.87 541.36,57.91 540.15,57.95 538.94,58 537.73,58.07 536.51,58.14 535.3,58.23 534.09,58.33 532.88,58.44 531.67,58.55 530.46,58.68 529.25,58.83 528.04,58.98 526.83,59.14 525.62,59.31 524.41,59.5 523.2,59.7 521.99,59.91 520.79,60.14 519.58,60.38 518.38,60.65 517.19,60.93 515.99,61.23 514.8,61.55 513.62,61.89 512.44,62.25 511.27,62.64 510.11,63.05 508.96,63.49 507.82,63.95 506.68,64.44 505.56,64.95 504.45,65.49 503.36,66.06 502.27,66.64 501.2,67.26 500.15,67.89 499.11,68.55 498.08,69.23 497.07,69.94 496.07,70.66 495.09,71.41 494.13,72.17 493.19,72.96 492.26,73.76 491.35,74.58 490.45,75.42 489.58,76.28 488.72,77.15 487.88,78.04 487.06,78.95 486.26,79.87 485.47,80.8 484.71,81.75 483.96,82.71 483.23,83.68 482.52,84.66 481.82,85.65 481.15,86.65 480.49,87.66 479.85,88.68 479.23,89.71 478.63,90.74 478.04,91.78 477.47,92.82 476.91,93.87 476.36,94.92 475.82,95.97 475.29,97.01 474.76,98.05 474.24,99.09 473.71,100.12 473.19,101.14 472.65,102.16 472.11,103.17 471.56,104.16 471,105.15 470.42,106.13 469.83,107.1 469.22,108.06 468.6,109.02 467.96,109.97 467.32,110.92 466.67,111.87 466.01,112.82 465.34,113.78 464.67,114.73 464,115.7 463.33,116.67 462.66,117.65 461.99,118.64 461.33,119.63 460.68,120.64 460.04,121.66 459.42,122.69 458.81,123.74 458.21,124.79 457.63,125.86 457.07,126.94 456.54,128.03 456.03,129.14 455.54,130.26 455.08,131.39 454.65,132.53 454.25,133.68 453.88,134.84 453.54,136.01 453.24,137.2 452.98,138.39 452.76,139.58 452.58,140.79 452.44,141.99 452.33,143.21 452.24,144.42 452.16,145.63 452.08,146.85 451.99,148.06 451.88,149.28 451.73,150.5" fill="none" stroke="#b474b8" stroke-width="2.7" stroke-linejoin="round"/>
<g fill="none" stroke="#7a7a7a" stroke-width="0.75" stroke-dasharray="1,1.6">
<circle cx="163.5" cy="418" r="34.33"/>
<circle cx="163.5" cy="418" r="68.67"/>
<circle cx="163.5" cy="418" r="2.2"/>
<line x1="163.5" y1="418" x2="163.5" y2="315"/>
<line x1="163.5" y1="418" x2="215" y2="328.8"/>
<line x1="163.5" y1="418" x2="252.7" y2="366.5"/>
<line x1="163.5" y1="418" x2="266.5" y2="418"/>
<line x1="163.5" y1="418" x2="252.7" y2="469.5"/>
<line x1="163.5" y1="418" x2="215" y2="507.2"/>
<line x1="163.5" y1="418" x2="163.5" y2="521"/>
<line x1="163.5" y1="418" x2="112" y2="507.2"/>
<line x1="163.5" y1="418" x2="74.3" y2="469.5"/>
<line x1="163.5" y1="418" x2="60.5" y2="418"/>
<line x1="163.5" y1="418" x2="74.3" y2="366.5"/>
<line x1="163.5" y1="418" x2="112" y2="328.8"/>
</g>
<circle cx="163.5" cy="418" r="103" fill="none" stroke="#3a3a3a" stroke-width="1.0"/>
<path d="M163.5,315 L163.5,318.5 M190.16,318.51 L189.64,320.44 M215,328.8 L213.25,331.83 M236.33,345.17 L234.92,346.58 M252.7,366.5 L249.67,368.25 M262.99,391.34 L261.06,391.86 M266.5,418 L263,418 M262.99,444.66 L261.06,444.14 M252.7,469.5 L249.67,467.75 M236.33,490.83 L234.92,489.42 M215,507.2 L213.25,504.17 M190.16,517.49 L189.64,515.56 M163.5,521 L163.5,517.5 M136.84,517.49 L137.36,515.56 M112,507.2 L113.75,504.17 M90.67,490.83 L92.08,489.42 M74.3,469.5 L77.33,467.75 M64.01,444.66 L65.94,444.14 M60.5,418 L64,418 M64.01,391.34 L65.94,391.86 M74.3,366.5 L77.33,368.25 M90.67,345.17 L92.08,346.58 M112,328.8 L113.75,331.83 M136.84,318.51 L137.36,320.44" stroke="#333" stroke-width="0.9"/>
<text x="163.5" y="309.1" text-anchor="middle" font-size="10.5" fill="#1a1a1a" stroke="#1a1a1a" stroke-width="0.28">0</text>
<text x="104.6" y="322.7" text-anchor="middle" font-size="10.5" fill="#1a1a1a" stroke="#1a1a1a" stroke-width="0.28">30</text>
<text x="65.4" y="362.4" text-anchor="middle" font-size="10.5" fill="#1a1a1a" stroke="#1a1a1a" stroke-width="0.28">60</text>
<text x="50.5" y="421.6" text-anchor="middle" font-size="10.5" fill="#1a1a1a" stroke="#1a1a1a" stroke-width="0.28">90</text>
<text x="63.1" y="480.9" text-anchor="middle" font-size="10.5" fill="#1a1a1a" stroke="#1a1a1a" stroke-width="0.28">120</text>
<text x="102.3" y="520.7" text-anchor="middle" font-size="10.5" fill="#1a1a1a" stroke="#1a1a1a" stroke-width="0.28">150</text>
<text x="163.15" y="534.6" text-anchor="middle" font-size="10.5" fill="#1a1a1a" stroke="#1a1a1a" stroke-width="0.28">-180</text>
<text x="226.8" y="520.7" text-anchor="middle" font-size="10.5" fill="#1a1a1a" stroke="#1a1a1a" stroke-width="0.28">-150</text>
<text x="265.8" y="481.1" text-anchor="middle" font-size="10.5" fill="#1a1a1a" stroke="#1a1a1a" stroke-width="0.28">-120</text>
<text x="277.4" y="421.6" text-anchor="middle" font-size="10.5" fill="#1a1a1a" stroke="#1a1a1a" stroke-width="0.28">-90</text>
<text x="263.3" y="362.4" text-anchor="middle" font-size="10.5" fill="#1a1a1a" stroke="#1a1a1a" stroke-width="0.28">-60</text>
<text x="224.4" y="322.7" text-anchor="middle" font-size="10.5" fill="#1a1a1a" stroke="#1a1a1a" stroke-width="0.28">-30</text>
<line x1="40.1" y1="315" x2="40.1" y2="521" stroke="#606060" stroke-width="1"/>
<path d="M36.1,315 H40.1 M38.3,332.17 H40.1 M36.1,349.33 H40.1 M38.3,366.5 H40.1 M36.1,383.67 H40.1 M38.3,400.83 H40.1 M36.1,418 H40.1 M38.3,435.17 H40.1 M36.1,452.33 H40.1 M38.3,469.5 H40.1 M36.1,486.67 H40.1 M38.3,503.83 H40.1 M36.1,521 H40.1" stroke="#606060" stroke-width="0.9"/>
<text x="32.8" y="318.4" text-anchor="end" font-size="10" fill="#1a1a1a" stroke="#1a1a1a" stroke-width="0.25">0</text>
<text x="32.8" y="352.73" text-anchor="end" font-size="10" fill="#1a1a1a" stroke="#1a1a1a" stroke-width="0.25">-10</text>
<text x="32.8" y="387.07" text-anchor="end" font-size="10" fill="#1a1a1a" stroke="#1a1a1a" stroke-width="0.25">-20</text>
<text x="32.8" y="421.4" text-anchor="end" font-size="10" fill="#1a1a1a" stroke="#1a1a1a" stroke-width="0.25">-30</text>
<text x="32.8" y="455.73" text-anchor="end" font-size="10" fill="#1a1a1a" stroke="#1a1a1a" stroke-width="0.25">-20</text>
<text x="32.8" y="490.07" text-anchor="end" font-size="10" fill="#1a1a1a" stroke="#1a1a1a" stroke-width="0.25">-10</text>
<text x="32.8" y="524.4" text-anchor="end" font-size="10" fill="#1a1a1a" stroke="#1a1a1a" stroke-width="0.25">0</text>
<text transform="translate(13.7,418) rotate(-90)" text-anchor="middle" font-size="12.5" fill="#111" stroke="#111" stroke-width="0.28">Normalized far-field pattern (dB)</text>
<text x="51.9" y="530" font-size="20.5" fill="#111">(c)</text>
<line x1="127" y1="388.9" x2="151.9" y2="388.9" stroke="#e05a5a" stroke-width="2.4"/>
<text x="153.4" y="392.5" font-size="10.3" fill="#222" stroke="#222" stroke-width="0.15"><tspan font-style="italic">d</tspan> = 1.4 mm</text>
<line x1="127" y1="401.55" x2="151.9" y2="401.55" stroke="#d2e060" stroke-width="2.4"/>
<text x="153.4" y="405.15" font-size="10.3" fill="#222" stroke="#222" stroke-width="0.15"><tspan font-style="italic">d</tspan> = 1.9 mm</text>
<line x1="127" y1="414.2" x2="151.9" y2="414.2" stroke="#76c890" stroke-width="2.4"/>
<text x="153.4" y="417.8" font-size="10.3" fill="#222" stroke="#222" stroke-width="0.15"><tspan font-style="italic">d</tspan> = 2.4 mm</text>
<line x1="127" y1="426.85" x2="151.9" y2="426.85" stroke="#4e6ec0" stroke-width="2.4"/>
<text x="153.4" y="430.45" font-size="10.3" fill="#222" stroke="#222" stroke-width="0.15"><tspan font-style="italic">d</tspan> = 2.9 mm</text>
<line x1="127" y1="439.5" x2="151.9" y2="439.5" stroke="#b474b8" stroke-width="2.4"/>
<text x="153.4" y="443.1" font-size="10.3" fill="#222" stroke="#222" stroke-width="0.15"><tspan font-style="italic">d</tspan> = 3.4 mm</text>
<path d="M264.6,418 264.59,416.68 264.56,415.35 264.5,414.03 264.41,412.71 264.29,411.39 264.14,410.08 263.96,408.77 263.76,407.46 263.52,406.16 263.26,404.87 262.97,403.58 262.65,402.3 262.3,401.02 261.92,399.76 261.51,398.5 261.08,397.26 260.61,396.03 260.12,394.8 259.6,393.59 259.05,392.4 258.48,391.21 257.88,390.04 257.25,388.89 256.6,387.75 255.93,386.63 255.23,385.52 254.53,384.42 253.8,383.34 253.06,382.27 252.31,381.21 251.55,380.17 250.78,379.14 250.01,378.12 249.23,377.11 248.44,376.11 247.66,375.12 246.87,374.14 246.08,373.16 245.29,372.19 244.51,371.23 243.74,370.26 242.96,369.3 242.2,368.34 241.44,367.38 240.7,366.42 239.96,365.45 239.23,364.48 238.5,363.51 237.78,362.53 237.06,361.56 236.33,360.58 235.61,359.61 234.88,358.63 234.15,357.66 233.42,356.69 232.67,355.72 231.92,354.76 231.15,353.8 230.38,352.85 229.59,351.91 228.79,350.98 227.98,350.06 227.14,349.15 226.3,348.26 225.43,347.38 224.55,346.52 223.65,345.68 222.73,344.86 221.78,344.07 220.82,343.3 219.84,342.55 218.85,341.82 217.83,341.12 216.81,340.44 215.77,339.78 214.72,339.13 213.66,338.51 212.59,337.89 211.51,337.3 210.43,336.71 209.35,336.13 208.26,335.56 207.17,335 206.07,334.45 204.98,333.9 203.88,333.35 202.78,332.8 201.68,332.24 200.58,331.69 199.49,331.12 198.39,330.56 197.28,330 196.17,329.45 195.04,328.92 193.91,328.42 192.75,327.96 191.59,327.54 190.4,327.18 189.2,326.87 187.98,326.63 186.76,326.43 185.52,326.28 184.28,326.17 183.04,326.08 181.8,326.02 180.56,325.97 179.32,325.93 178.09,325.89 176.86,325.86 175.63,325.83 174.41,325.8 173.19,325.77 171.98,325.73 170.77,325.68 169.56,325.61 168.35,325.54 167.14,325.44 165.93,325.32 164.71,325.19 163.5,325.02 162.28,324.83 161.05,324.62 159.82,324.4 158.58,324.16 157.33,323.93 156.08,323.69 154.81,323.48 153.54,323.28 152.27,323.1 150.99,322.96 149.7,322.85 148.42,322.79 147.14,322.78 145.86,322.83 144.59,322.94 143.33,323.11 142.09,323.37 140.86,323.7 139.65,324.09 138.46,324.55 137.29,325.06 136.13,325.61 135,326.2 133.87,326.82 132.76,327.46 131.67,328.11 130.58,328.76 129.5,329.42 128.42,330.06 127.34,330.7 126.26,331.32 125.18,331.93 124.1,332.53 123.01,333.1 121.91,333.66 120.8,334.19 119.67,334.7 118.53,335.18 117.38,335.64 116.2,336.07 114.99,336.47 113.76,336.84 112.51,337.18 111.24,337.52 109.96,337.87 108.69,338.25 107.44,338.68 106.22,339.16 105.04,339.71 103.89,340.31 102.78,340.97 101.7,341.69 100.67,342.46 99.69,343.29 98.74,344.16 97.84,345.08 96.97,346.03 96.14,347.02 95.34,348.03 94.56,349.06 93.81,350.12 93.09,351.18 92.37,352.25 91.67,353.33 90.98,354.4 90.29,355.47 89.6,356.54 88.92,357.6 88.23,358.66 87.54,359.71 86.85,360.76 86.15,361.8 85.45,362.84 84.74,363.87 84.03,364.9 83.31,365.92 82.58,366.94 81.84,367.96 81.08,368.97 80.32,369.98 79.54,370.98 78.76,371.99 77.97,373 77.17,374.01 76.37,375.03 75.57,376.06 74.78,377.1 73.98,378.15 73.2,379.2 72.42,380.27 71.66,381.36 70.91,382.46 70.18,383.57 69.47,384.7 68.78,385.85 68.12,387.01 67.49,388.19 66.89,389.38 66.32,390.59 65.77,391.81 65.26,393.05 64.77,394.3 64.31,395.56 63.88,396.83 63.48,398.11 63.11,399.39 62.77,400.69 62.45,402 62.16,403.31 61.9,404.62 61.67,405.95 61.46,407.28 61.28,408.61 61.12,409.94 60.99,411.28 60.89,412.62 60.81,413.97 60.76,415.31 60.73,416.65 60.73,418" fill="none" stroke="#e05a5a" stroke-width="2.4" stroke-linejoin="round"/>
<path d="M263.7,418 263.69,416.69 263.66,415.38 263.6,414.07 263.51,412.76 263.39,411.45 263.24,410.15 263.06,408.85 262.86,407.56 262.63,406.27 262.37,404.98 262.08,403.71 261.76,402.44 261.41,401.18 261.03,399.92 260.63,398.68 260.2,397.45 259.74,396.22 259.25,395.01 258.73,393.81 258.19,392.63 257.61,391.46 257.01,390.3 256.39,389.16 255.74,388.03 255.07,386.92 254.39,385.82 253.68,384.73 252.96,383.66 252.23,382.6 251.48,381.56 250.73,380.52 249.96,379.5 249.19,378.5 248.42,377.5 247.64,376.51 246.85,375.53 246.07,374.56 245.29,373.59 244.51,372.63 243.73,371.68 242.96,370.72 242.2,369.77 241.44,368.82 240.69,367.87 239.95,366.92 239.22,365.96 238.49,365 237.77,364.04 237.06,363.07 236.34,362.11 235.63,361.14 234.91,360.17 234.19,359.21 233.47,358.24 232.74,357.28 232,356.32 231.26,355.37 230.5,354.42 229.73,353.48 228.96,352.54 228.16,351.62 227.36,350.71 226.53,349.81 225.69,348.93 224.84,348.06 223.96,347.21 223.07,346.37 222.16,345.56 221.23,344.77 220.27,344.01 219.3,343.27 218.32,342.55 217.31,341.86 216.3,341.18 215.27,340.53 214.23,339.89 213.18,339.27 212.12,338.66 211.05,338.07 209.98,337.49 208.91,336.92 207.83,336.36 206.75,335.8 205.66,335.25 204.58,334.7 203.49,334.16 202.4,333.61 201.32,333.06 200.23,332.51 199.14,331.95 198.05,331.39 196.96,330.84 195.86,330.29 194.74,329.77 193.62,329.28 192.48,328.82 191.32,328.4 190.15,328.04 188.96,327.74 187.75,327.5 186.53,327.3 185.31,327.16 184.08,327.05 182.85,326.96 181.62,326.9 180.39,326.85 179.17,326.81 177.95,326.78 176.73,326.75 175.52,326.72 174.31,326.7 173.1,326.66 171.9,326.62 170.7,326.57 169.5,326.51 168.3,326.43 167.1,326.34 165.9,326.22 164.7,326.09 163.5,325.92 162.29,325.73 161.08,325.52 159.86,325.29 158.63,325.06 157.39,324.82 156.15,324.59 154.9,324.37 153.64,324.17 152.37,323.99 151.1,323.85 149.83,323.74 148.56,323.68 147.29,323.67 146.02,323.71 144.77,323.82 143.52,323.99 142.29,324.25 141.07,324.57 139.87,324.97 138.69,325.42 137.53,325.93 136.39,326.48 135.26,327.06 134.15,327.68 133.05,328.31 131.97,328.96 130.89,329.61 129.82,330.26 128.75,330.9 127.68,331.53 126.62,332.15 125.55,332.75 124.47,333.34 123.39,333.91 122.3,334.46 121.21,334.99 120.09,335.5 118.96,335.97 117.82,336.43 116.65,336.85 115.45,337.24 114.23,337.6 112.99,337.94 111.73,338.27 110.46,338.62 109.2,338.99 107.96,339.41 106.75,339.89 105.58,340.43 104.44,341.03 103.33,341.68 102.27,342.39 101.25,343.15 100.27,343.97 99.34,344.84 98.44,345.75 97.58,346.69 96.76,347.67 95.97,348.67 95.2,349.7 94.46,350.74 93.74,351.8 93.03,352.86 92.34,353.93 91.66,355 90.98,356.06 90.3,357.12 89.62,358.17 88.94,359.22 88.25,360.26 87.57,361.3 86.88,362.33 86.19,363.36 85.48,364.38 84.78,365.4 84.06,366.41 83.34,367.42 82.6,368.43 81.86,369.43 81.1,370.43 80.33,371.42 79.55,372.42 78.77,373.42 77.97,374.42 77.18,375.43 76.39,376.45 75.59,377.48 74.81,378.51 74.03,379.56 73.25,380.62 72.5,381.69 71.75,382.78 71.03,383.88 70.32,385 69.64,386.14 68.98,387.29 68.35,388.46 67.75,389.64 67.18,390.84 66.64,392.05 66.13,393.27 65.65,394.51 65.19,395.75 64.76,397.01 64.37,398.28 64,399.56 63.65,400.84 63.34,402.14 63.05,403.44 62.79,404.74 62.56,406.05 62.35,407.37 62.17,408.69 62.02,410.01 61.89,411.34 61.79,412.67 61.71,414 61.66,415.33 61.63,416.67 61.63,418" fill="none" stroke="#d2e060" stroke-width="2.4" stroke-linejoin="round"/>
<path d="M264.4,418 264.39,416.68 264.36,415.36 264.3,414.04 264.21,412.72 264.09,411.41 263.94,410.1 263.76,408.79 263.56,407.48 263.32,406.19 263.06,404.89 262.77,403.61 262.45,402.33 262.1,401.06 261.72,399.8 261.32,398.54 260.88,397.3 260.42,396.07 259.93,394.85 259.41,393.64 258.86,392.45 258.29,391.27 257.68,390.1 257.06,388.95 256.41,387.81 255.74,386.69 255.05,385.58 254.34,384.49 253.62,383.41 252.88,382.34 252.13,381.29 251.37,380.25 250.6,379.22 249.83,378.2 249.05,377.2 248.26,376.2 247.48,375.21 246.69,374.23 245.9,373.26 245.12,372.29 244.34,371.33 243.56,370.37 242.79,369.41 242.03,368.45 241.28,367.49 240.53,366.53 239.79,365.56 239.06,364.6 238.34,363.63 237.62,362.65 236.9,361.68 236.18,360.71 235.46,359.73 234.73,358.76 234,357.79 233.27,356.82 232.52,355.85 231.77,354.89 231.01,353.94 230.24,352.99 229.45,352.05 228.65,351.12 227.84,350.2 227.01,349.3 226.16,348.41 225.3,347.53 224.42,346.67 223.52,345.84 222.6,345.02 221.66,344.22 220.7,343.45 219.72,342.71 218.73,341.99 217.72,341.28 216.69,340.6 215.66,339.94 214.61,339.3 213.55,338.68 212.48,338.06 211.41,337.47 210.33,336.88 209.25,336.31 208.16,335.74 207.07,335.18 205.98,334.63 204.89,334.08 203.79,333.53 202.7,332.98 201.6,332.43 200.5,331.87 199.41,331.31 198.31,330.74 197.21,330.18 196.1,329.64 194.98,329.11 193.84,328.61 192.69,328.15 191.53,327.74 190.35,327.37 189.15,327.07 187.93,326.82 186.71,326.63 185.47,326.48 184.24,326.36 183,326.28 181.76,326.21 180.52,326.16 179.29,326.12 178.06,326.09 176.83,326.06 175.61,326.03 174.39,326 173.17,325.97 171.96,325.93 170.75,325.88 169.54,325.81 168.34,325.74 167.13,325.64 165.92,325.52 164.71,325.39 163.5,325.22 162.28,325.03 161.06,324.82 159.83,324.6 158.59,324.36 157.35,324.12 156.09,323.89 154.83,323.67 153.56,323.47 152.29,323.3 151.01,323.15 149.73,323.05 148.45,322.99 147.17,322.98 145.9,323.02 144.63,323.13 143.37,323.31 142.13,323.56 140.91,323.89 139.7,324.29 138.51,324.75 137.34,325.25 136.19,325.81 135.06,326.39 133.94,327.01 132.83,327.65 131.73,328.3 130.65,328.95 129.57,329.6 128.49,330.25 127.41,330.88 126.34,331.51 125.26,332.12 124.18,332.71 123.09,333.28 122,333.84 120.89,334.37 119.77,334.88 118.63,335.36 117.47,335.81 116.3,336.24 115.1,336.64 113.87,337.01 112.61,337.35 111.34,337.69 110.07,338.04 108.8,338.42 107.56,338.84 106.34,339.33 105.16,339.87 104.01,340.47 102.9,341.13 101.83,341.84 100.8,342.61 99.82,343.44 98.88,344.31 97.97,345.23 97.11,346.18 96.28,347.16 95.48,348.17 94.71,349.21 93.96,350.25 93.23,351.32 92.52,352.39 91.82,353.46 91.13,354.53 90.44,355.6 89.76,356.67 89.07,357.73 88.39,358.79 87.7,359.84 87.01,360.88 86.31,361.92 85.61,362.96 84.91,363.99 84.2,365.01 83.48,366.03 82.75,367.05 82.01,368.06 81.26,369.07 80.49,370.08 79.72,371.08 78.94,372.09 78.15,373.09 77.35,374.1 76.55,375.12 75.76,376.15 74.96,377.18 74.17,378.23 73.38,379.28 72.61,380.35 71.85,381.43 71.1,382.53 70.37,383.64 69.66,384.77 68.97,385.91 68.31,387.07 67.68,388.25 67.08,389.44 66.51,390.65 65.97,391.87 65.45,393.1 64.96,394.34 64.51,395.6 64.08,396.87 63.68,398.14 63.31,399.43 62.96,400.72 62.65,402.03 62.36,403.34 62.1,404.65 61.87,405.97 61.66,407.3 61.48,408.63 61.32,409.96 61.19,411.29 61.09,412.63 61.01,413.97 60.96,415.31 60.93,416.66 60.93,418" fill="none" stroke="#76c890" stroke-width="2.4" stroke-linejoin="round"/>
<path d="M263.8,418 263.79,416.69 263.76,415.37 263.7,414.06 263.61,412.75 263.49,411.45 263.34,410.14 263.16,408.84 262.96,407.55 262.73,406.26 262.47,404.97 262.18,403.69 261.86,402.42 261.51,401.16 261.13,399.9 260.73,398.66 260.3,397.43 259.83,396.2 259.35,394.99 258.83,393.79 258.28,392.6 257.71,391.43 257.11,390.27 256.48,389.13 255.84,388 255.17,386.88 254.48,385.78 253.78,384.7 253.06,383.62 252.32,382.56 251.58,381.52 250.82,380.48 250.05,379.46 249.28,378.45 248.51,377.45 247.73,376.46 246.94,375.48 246.16,374.51 245.38,373.54 244.6,372.58 243.82,371.63 243.05,370.67 242.28,369.72 241.52,368.77 240.77,367.82 240.03,366.86 239.3,365.9 238.57,364.94 237.85,363.98 237.14,363.01 236.42,362.05 235.71,361.08 234.99,360.11 234.27,359.14 233.54,358.18 232.81,357.21 232.08,356.25 231.33,355.3 230.57,354.35 229.81,353.41 229.03,352.47 228.23,351.55 227.42,350.64 226.6,349.74 225.76,348.85 224.9,347.98 224.03,347.13 223.13,346.3 222.22,345.48 221.29,344.7 220.34,343.93 219.36,343.19 218.38,342.47 217.37,341.77 216.35,341.1 215.32,340.44 214.28,339.8 213.23,339.18 212.17,338.58 211.11,337.98 210.03,337.4 208.96,336.83 207.88,336.27 206.79,335.71 205.71,335.16 204.62,334.61 203.53,334.07 202.44,333.52 201.36,332.97 200.27,332.42 199.18,331.86 198.09,331.3 196.99,330.74 195.89,330.2 194.78,329.68 193.65,329.18 192.51,328.72 191.35,328.31 190.18,327.95 188.98,327.64 187.78,327.4 186.56,327.21 185.33,327.06 184.1,326.95 182.87,326.87 181.64,326.8 180.41,326.75 179.19,326.71 177.96,326.68 176.74,326.65 175.53,326.63 174.32,326.6 173.11,326.56 171.91,326.52 170.7,326.47 169.5,326.41 168.3,326.33 167.11,326.24 165.91,326.12 164.7,325.99 163.5,325.82 162.29,325.63 161.08,325.42 159.85,325.19 158.62,324.96 157.39,324.72 156.14,324.49 154.89,324.27 153.63,324.07 152.36,323.89 151.09,323.75 149.82,323.64 148.55,323.58 147.27,323.57 146.01,323.61 144.75,323.72 143.5,323.9 142.26,324.15 141.05,324.48 139.85,324.87 138.67,325.32 137.51,325.83 136.36,326.38 135.23,326.97 134.12,327.58 133.02,328.22 131.93,328.86 130.86,329.51 129.78,330.16 128.71,330.81 127.64,331.44 126.58,332.06 125.51,332.66 124.43,333.25 123.35,333.82 122.26,334.37 121.16,334.9 120.05,335.41 118.92,335.89 117.77,336.34 116.6,336.76 115.4,337.15 114.18,337.52 112.93,337.86 111.67,338.19 110.4,338.54 109.14,338.91 107.9,339.33 106.69,339.81 105.52,340.35 104.37,340.95 103.27,341.6 102.21,342.31 101.19,343.07 100.21,343.89 99.27,344.76 98.38,345.67 97.52,346.62 96.69,347.6 95.9,348.6 95.13,349.63 94.39,350.67 93.67,351.73 92.96,352.79 92.27,353.86 91.58,354.93 90.9,355.99 90.22,357.05 89.54,358.11 88.86,359.16 88.17,360.2 87.49,361.24 86.8,362.27 86.1,363.3 85.4,364.33 84.69,365.34 83.98,366.36 83.25,367.37 82.52,368.37 81.77,369.38 81.01,370.38 80.24,371.37 79.46,372.37 78.68,373.37 77.89,374.38 77.09,375.39 76.3,376.41 75.5,377.43 74.72,378.47 73.93,379.52 73.16,380.58 72.4,381.66 71.66,382.75 70.93,383.85 70.22,384.97 69.54,386.11 68.88,387.26 68.26,388.43 67.66,389.61 67.09,390.81 66.54,392.02 66.03,393.25 65.55,394.48 65.09,395.73 64.67,396.99 64.27,398.26 63.9,399.54 63.56,400.83 63.24,402.12 62.95,403.42 62.69,404.73 62.46,406.04 62.25,407.36 62.07,408.68 61.92,410.01 61.79,411.33 61.69,412.66 61.61,414 61.56,415.33 61.53,416.67 61.53,418" fill="none" stroke="#4e6ec0" stroke-width="2.4" stroke-linejoin="round"/>
<path d="M264.1,418 264.09,416.68 264.06,415.37 264,414.05 263.91,412.74 263.79,411.43 263.64,410.12 263.46,408.81 263.26,407.52 263.02,406.22 262.76,404.93 262.47,403.65 262.15,402.37 261.8,401.11 261.43,399.85 261.02,398.6 260.59,397.36 260.13,396.14 259.64,394.92 259.12,393.72 258.57,392.53 258,391.35 257.4,390.19 256.77,389.04 256.12,387.91 255.45,386.79 254.76,385.68 254.06,384.59 253.34,383.52 252.6,382.45 251.85,381.4 251.09,380.37 250.33,379.34 249.55,378.33 248.78,377.33 247.99,376.33 247.21,375.35 246.42,374.37 245.64,373.4 244.86,372.44 244.08,371.48 243.31,370.52 242.54,369.57 241.78,368.61 241.03,367.65 240.28,366.7 239.55,365.73 238.82,364.77 238.1,363.8 237.38,362.83 236.66,361.86 235.94,360.89 235.22,359.92 234.5,358.95 233.77,357.98 233.04,357.01 232.3,356.05 231.55,355.09 230.79,354.14 230.02,353.2 229.24,352.26 228.44,351.34 227.63,350.42 226.8,349.52 225.96,348.63 225.1,347.76 224.22,346.9 223.33,346.07 222.41,345.25 221.47,344.46 220.52,343.69 219.54,342.95 218.55,342.23 217.54,341.53 216.52,340.85 215.49,340.19 214.44,339.55 213.39,338.93 212.33,338.32 211.26,337.72 210.18,337.14 209.1,336.57 208.02,336 206.93,335.45 205.84,334.89 204.75,334.35 203.66,333.8 202.57,333.25 201.48,332.7 200.39,332.14 199.29,331.58 198.2,331.02 197.1,330.46 195.99,329.92 194.88,329.39 193.75,328.9 192.6,328.44 191.44,328.02 190.26,327.66 189.06,327.35 187.85,327.11 186.63,326.92 185.4,326.77 184.17,326.66 182.93,326.57 181.7,326.51 180.47,326.46 179.24,326.42 178.01,326.39 176.79,326.36 175.57,326.33 174.35,326.3 173.14,326.26 171.93,326.22 170.73,326.17 169.52,326.11 168.32,326.03 167.12,325.94 165.91,325.82 164.71,325.69 163.5,325.52 162.29,325.33 161.07,325.12 159.84,324.89 158.61,324.66 157.37,324.42 156.12,324.19 154.86,323.97 153.6,323.77 152.33,323.6 151.05,323.45 149.78,323.35 148.5,323.28 147.22,323.27 145.95,323.32 144.69,323.43 143.44,323.6 142.2,323.86 140.98,324.18 139.77,324.58 138.59,325.04 137.42,325.54 136.28,326.09 135.14,326.68 134.03,327.3 132.93,327.93 131.83,328.58 130.75,329.23 129.68,329.88 128.6,330.53 127.53,331.16 126.46,331.78 125.38,332.39 124.31,332.98 123.22,333.55 122.13,334.11 121.02,334.64 119.91,335.14 118.77,335.62 117.62,336.08 116.45,336.5 115.25,336.9 114.02,337.26 112.77,337.6 111.51,337.94 110.24,338.29 108.97,338.66 107.73,339.09 106.52,339.57 105.34,340.11 104.19,340.71 103.08,341.36 102.02,342.08 100.99,342.84 100.01,343.67 99.07,344.54 98.17,345.45 97.31,346.4 96.48,347.38 95.69,348.39 94.92,349.42 94.17,350.46 93.45,351.52 92.74,352.59 92.04,353.66 91.36,354.73 90.67,355.8 89.99,356.86 89.31,357.92 88.62,358.97 87.94,360.02 87.25,361.06 86.56,362.1 85.86,363.13 85.16,364.16 84.45,365.18 83.73,366.19 83,367.21 82.26,368.22 81.51,369.22 80.75,370.23 79.98,371.23 79.2,372.23 78.41,373.23 77.62,374.24 76.82,375.26 76.03,376.28 75.23,377.31 74.44,378.35 73.66,379.4 72.89,380.47 72.12,381.54 71.38,382.64 70.65,383.75 69.94,384.87 69.26,386.01 68.6,387.16 67.97,388.34 67.37,389.52 66.8,390.73 66.25,391.94 65.74,393.17 65.26,394.41 64.8,395.67 64.37,396.93 63.97,398.2 63.6,399.49 63.26,400.78 62.94,402.07 62.66,403.38 62.4,404.69 62.16,406.01 61.96,407.33 61.78,408.65 61.62,409.98 61.49,411.31 61.39,412.65 61.31,413.99 61.26,415.32 61.23,416.66 61.23,418" fill="none" stroke="#b474b8" stroke-width="2.7" stroke-linejoin="round"/>
<g fill="none" stroke="#7a7a7a" stroke-width="0.75" stroke-dasharray="1,1.6">
<circle cx="552.2" cy="418" r="34.33"/>
<circle cx="552.2" cy="418" r="68.67"/>
<circle cx="552.2" cy="418" r="2.2"/>
<line x1="552.2" y1="418" x2="552.2" y2="315"/>
<line x1="552.2" y1="418" x2="603.7" y2="328.8"/>
<line x1="552.2" y1="418" x2="641.4" y2="366.5"/>
<line x1="552.2" y1="418" x2="655.2" y2="418"/>
<line x1="552.2" y1="418" x2="641.4" y2="469.5"/>
<line x1="552.2" y1="418" x2="603.7" y2="507.2"/>
<line x1="552.2" y1="418" x2="552.2" y2="521"/>
<line x1="552.2" y1="418" x2="500.7" y2="507.2"/>
<line x1="552.2" y1="418" x2="463" y2="469.5"/>
<line x1="552.2" y1="418" x2="449.2" y2="418"/>
<line x1="552.2" y1="418" x2="463" y2="366.5"/>
<line x1="552.2" y1="418" x2="500.7" y2="328.8"/>
</g>
<circle cx="552.2" cy="418" r="103" fill="none" stroke="#3a3a3a" stroke-width="1.0"/>
<path d="M552.2,315 L552.2,318.5 M578.86,318.51 L578.34,320.44 M603.7,328.8 L601.95,331.83 M625.03,345.17 L623.62,346.58 M641.4,366.5 L638.37,368.25 M651.69,391.34 L649.76,391.86 M655.2,418 L651.7,418 M651.69,444.66 L649.76,444.14 M641.4,469.5 L638.37,467.75 M625.03,490.83 L623.62,489.42 M603.7,507.2 L601.95,504.17 M578.86,517.49 L578.34,515.56 M552.2,521 L552.2,517.5 M525.54,517.49 L526.06,515.56 M500.7,507.2 L502.45,504.17 M479.37,490.83 L480.78,489.42 M463,469.5 L466.03,467.75 M452.71,444.66 L454.64,444.14 M449.2,418 L452.7,418 M452.71,391.34 L454.64,391.86 M463,366.5 L466.03,368.25 M479.37,345.17 L480.78,346.58 M500.7,328.8 L502.45,331.83 M525.54,318.51 L526.06,320.44" stroke="#333" stroke-width="0.9"/>
<text x="552.2" y="309.1" text-anchor="middle" font-size="10.5" fill="#1a1a1a" stroke="#1a1a1a" stroke-width="0.28">0</text>
<text x="493.3" y="322.7" text-anchor="middle" font-size="10.5" fill="#1a1a1a" stroke="#1a1a1a" stroke-width="0.28">30</text>
<text x="454.1" y="362.4" text-anchor="middle" font-size="10.5" fill="#1a1a1a" stroke="#1a1a1a" stroke-width="0.28">60</text>
<text x="439.2" y="421.6" text-anchor="middle" font-size="10.5" fill="#1a1a1a" stroke="#1a1a1a" stroke-width="0.28">90</text>
<text x="451.8" y="480.9" text-anchor="middle" font-size="10.5" fill="#1a1a1a" stroke="#1a1a1a" stroke-width="0.28">120</text>
<text x="491" y="520.7" text-anchor="middle" font-size="10.5" fill="#1a1a1a" stroke="#1a1a1a" stroke-width="0.28">150</text>
<text x="551.85" y="534.6" text-anchor="middle" font-size="10.5" fill="#1a1a1a" stroke="#1a1a1a" stroke-width="0.28">-180</text>
<text x="615.5" y="520.7" text-anchor="middle" font-size="10.5" fill="#1a1a1a" stroke="#1a1a1a" stroke-width="0.28">-150</text>
<text x="654.5" y="481.1" text-anchor="middle" font-size="10.5" fill="#1a1a1a" stroke="#1a1a1a" stroke-width="0.28">-120</text>
<text x="666.1" y="421.6" text-anchor="middle" font-size="10.5" fill="#1a1a1a" stroke="#1a1a1a" stroke-width="0.28">-90</text>
<text x="652" y="362.4" text-anchor="middle" font-size="10.5" fill="#1a1a1a" stroke="#1a1a1a" stroke-width="0.28">-60</text>
<text x="613.1" y="322.7" text-anchor="middle" font-size="10.5" fill="#1a1a1a" stroke="#1a1a1a" stroke-width="0.28">-30</text>
<line x1="428" y1="315" x2="428" y2="521" stroke="#606060" stroke-width="1"/>
<path d="M424,315 H428 M426.2,332.17 H428 M424,349.33 H428 M426.2,366.5 H428 M424,383.67 H428 M426.2,400.83 H428 M424,418 H428 M426.2,435.17 H428 M424,452.33 H428 M426.2,469.5 H428 M424,486.67 H428 M426.2,503.83 H428 M424,521 H428" stroke="#606060" stroke-width="0.9"/>
<text x="420.7" y="318.4" text-anchor="end" font-size="10" fill="#1a1a1a" stroke="#1a1a1a" stroke-width="0.25">0</text>
<text x="420.7" y="352.73" text-anchor="end" font-size="10" fill="#1a1a1a" stroke="#1a1a1a" stroke-width="0.25">-10</text>
<text x="420.7" y="387.07" text-anchor="end" font-size="10" fill="#1a1a1a" stroke="#1a1a1a" stroke-width="0.25">-20</text>
<text x="420.7" y="421.4" text-anchor="end" font-size="10" fill="#1a1a1a" stroke="#1a1a1a" stroke-width="0.25">-30</text>
<text x="420.7" y="455.73" text-anchor="end" font-size="10" fill="#1a1a1a" stroke="#1a1a1a" stroke-width="0.25">-20</text>
<text x="420.7" y="490.07" text-anchor="end" font-size="10" fill="#1a1a1a" stroke="#1a1a1a" stroke-width="0.25">-10</text>
<text x="420.7" y="524.4" text-anchor="end" font-size="10" fill="#1a1a1a" stroke="#1a1a1a" stroke-width="0.25">0</text>
<text transform="translate(401.4,418) rotate(-90)" text-anchor="middle" font-size="12.5" fill="#111" stroke="#111" stroke-width="0.28">Normalized far-field pattern (dB)</text>
<text x="438.1" y="530" font-size="20.5" fill="#111">(d)</text>
<line x1="515.7" y1="388.9" x2="540.6" y2="388.9" stroke="#e05a5a" stroke-width="2.4"/>
<text x="542.1" y="392.5" font-size="10.3" fill="#222" stroke="#222" stroke-width="0.15"><tspan font-style="italic">d</tspan> = 1.4 mm</text>
<line x1="515.7" y1="401.55" x2="540.6" y2="401.55" stroke="#d2e060" stroke-width="2.4"/>
<text x="542.1" y="405.15" font-size="10.3" fill="#222" stroke="#222" stroke-width="0.15"><tspan font-style="italic">d</tspan> = 1.9 mm</text>
<line x1="515.7" y1="414.2" x2="540.6" y2="414.2" stroke="#76c890" stroke-width="2.4"/>
<text x="542.1" y="417.8" font-size="10.3" fill="#222" stroke="#222" stroke-width="0.15"><tspan font-style="italic">d</tspan> = 2.4 mm</text>
<line x1="515.7" y1="426.85" x2="540.6" y2="426.85" stroke="#4e6ec0" stroke-width="2.4"/>
<text x="542.1" y="430.45" font-size="10.3" fill="#222" stroke="#222" stroke-width="0.15"><tspan font-style="italic">d</tspan> = 2.9 mm</text>
<line x1="515.7" y1="439.5" x2="540.6" y2="439.5" stroke="#b474b8" stroke-width="2.4"/>
<text x="542.1" y="443.1" font-size="10.3" fill="#222" stroke="#222" stroke-width="0.15"><tspan font-style="italic">d</tspan> = 3.4 mm</text>
<path d="M552.2,511.94 554.66,511.81 557.1,511.59 559.54,511.28 561.96,510.89 564.37,510.43 566.76,509.9 569.13,509.32 571.48,508.69 573.81,508.01 576.13,507.3 578.43,506.56 580.73,505.8 583.01,505.02 585.29,504.21 587.56,503.36 589.82,502.49 592.07,501.58 594.3,500.63 596.53,499.64 598.74,498.6 600.93,497.52 603.11,496.39 605.26,495.2 607.39,493.97 609.5,492.68 611.59,491.34 613.65,489.95 615.69,488.51 617.7,487.03 619.69,485.49 621.65,483.91 623.59,482.28 625.49,480.6 627.37,478.87 629.22,477.1 631.04,475.28 632.83,473.42 634.6,471.51 636.32,469.55 638.02,467.55 639.68,465.5 641.29,463.39 642.84,461.24 644.33,459.02 645.73,456.74 647.04,454.41 648.25,452.01 649.34,449.56 650.33,447.07 651.19,444.53 651.95,441.95 652.59,439.34 653.12,436.7 653.54,434.05 653.87,431.38 654.1,428.71 654.24,426.03 654.31,423.35 654.3,420.67 654.23,418 654.1,415.33 653.91,412.67 653.66,410.02 653.35,407.37 652.97,404.73 652.54,402.11 652.04,399.5 651.48,396.9 650.85,394.32 650.15,391.75 649.39,389.21 648.56,386.69 647.66,384.19 646.7,381.73 645.67,379.29 644.56,376.88 643.39,374.5 642.15,372.17 640.84,369.87 639.46,367.62 638.02,365.41 636.51,363.25 634.93,361.14 633.3,359.08 631.6,357.07 629.85,355.12 628.04,353.22 626.18,351.38 624.28,349.6 622.32,347.88 620.32,346.22 618.27,344.62 616.18,343.08 614.06,341.61 611.9,340.2 609.71,338.85 607.48,337.57 605.23,336.35 602.94,335.19 600.64,334.1 598.31,333.08 595.96,332.12 593.59,331.23 591.2,330.39 588.8,329.63 586.39,328.93 583.97,328.29 581.54,327.71 579.1,327.19 576.65,326.74 574.2,326.35 571.75,326.02 569.3,325.74 566.85,325.52 564.4,325.34 561.95,325.2 559.51,325.11 557.07,325.05 554.63,325.02 552.2,325.02 549.77,325.04 547.33,325.09 544.89,325.17 542.45,325.27 540.01,325.41 537.56,325.58 535.11,325.79 532.65,326.05 530.19,326.34 527.73,326.68 525.26,327.07 522.8,327.5 520.33,327.99 517.86,328.54 515.39,329.14 512.93,329.8 510.48,330.52 508.03,331.31 505.6,332.17 503.18,333.09 500.77,334.08 498.39,335.14 496.03,336.27 493.7,337.48 491.4,338.76 489.13,340.12 486.9,341.55 484.72,343.06 482.58,344.64 480.5,346.3 478.47,348.03 476.5,349.84 474.6,351.72 472.77,353.68 471.01,355.7 469.33,357.79 467.73,359.95 466.21,362.16 464.77,364.42 463.4,366.73 462.1,369.08 460.86,371.46 459.69,373.87 458.57,376.31 457.51,378.78 456.51,381.27 455.58,383.78 454.7,386.32 453.9,388.88 453.15,391.46 452.47,394.06 451.86,396.67 451.32,399.3 450.84,401.95 450.44,404.6 450.1,407.27 449.84,409.94 449.65,412.63 449.52,415.31 449.48,418 449.5,420.69 449.6,423.38 449.78,426.06 450.03,428.74 450.35,431.41 450.75,434.07 451.22,436.72 451.77,439.35 452.4,441.96 453.1,444.55 453.87,447.13 454.72,449.67 455.65,452.19 456.65,454.68 457.74,457.13 458.89,459.54 460.13,461.92 461.44,464.25 462.83,466.53 464.29,468.76 465.83,470.93 467.44,473.05 469.12,475.1 470.87,477.09 472.7,479.01 474.59,480.85 476.54,482.62 478.55,484.32 480.6,485.94 482.7,487.5 484.84,488.98 487.01,490.4 489.2,491.76 491.41,493.07 493.64,494.32 495.88,495.52 498.13,496.67 500.39,497.78 502.65,498.86 504.91,499.91 507.17,500.94 509.43,501.94 511.7,502.91 513.98,503.85 516.27,504.75 518.57,505.61 520.88,506.44 523.21,507.22 525.55,507.96 527.91,508.64 530.29,509.27 532.68,509.84 535.08,510.35 537.5,510.79 539.94,511.16 542.38,511.46 544.83,511.68 547.28,511.82 549.74,511.87 552.2,511.84" fill="none" stroke="#e05a5a" stroke-width="2.4" stroke-linejoin="round"/>
<path d="M552.2,511.04 554.63,510.91 557.06,510.69 559.47,510.38 561.87,510 564.25,509.54 566.62,509.02 568.96,508.44 571.29,507.81 573.6,507.14 575.9,506.43 578.18,505.7 580.45,504.95 582.71,504.17 584.97,503.37 587.21,502.53 589.45,501.67 591.68,500.77 593.89,499.83 596.1,498.85 598.29,497.82 600.46,496.75 602.61,495.63 604.75,494.46 606.86,493.24 608.95,491.96 611.02,490.64 613.07,489.27 615.09,487.84 617.08,486.37 619.05,484.85 621,483.29 622.92,481.67 624.81,480.01 626.67,478.31 628.51,476.55 630.32,474.75 632.09,472.91 633.84,471.02 635.56,469.08 637.24,467.1 638.89,465.07 640.49,462.99 642.03,460.85 643.51,458.65 644.9,456.4 646.2,454.08 647.4,451.71 648.49,449.29 649.46,446.81 650.32,444.29 651.07,441.74 651.71,439.15 652.23,436.54 652.65,433.91 652.97,431.27 653.2,428.62 653.34,425.96 653.41,423.3 653.4,420.65 653.33,418 653.2,415.36 653.01,412.72 652.76,410.09 652.45,407.46 652.08,404.85 651.65,402.25 651.15,399.66 650.59,397.09 649.97,394.53 649.28,391.99 648.53,389.47 647.7,386.97 646.82,384.49 645.86,382.05 644.83,379.63 643.74,377.24 642.58,374.89 641.35,372.58 640.05,370.3 638.69,368.07 637.25,365.88 635.75,363.74 634.19,361.65 632.57,359.61 630.89,357.62 629.15,355.69 627.36,353.81 625.52,351.99 623.62,350.22 621.68,348.52 619.7,346.87 617.67,345.29 615.6,343.77 613.49,342.31 611.35,340.91 609.18,339.58 606.97,338.31 604.74,337.1 602.47,335.96 600.19,334.88 597.88,333.87 595.55,332.92 593.2,332.04 590.84,331.22 588.46,330.46 586.07,329.77 583.67,329.13 581.26,328.56 578.84,328.06 576.42,327.61 573.99,327.23 571.56,326.9 569.14,326.63 566.71,326.4 564.28,326.23 561.86,326.1 559.44,326.01 557.02,325.95 554.61,325.92 552.2,325.92 549.79,325.94 547.38,325.99 544.96,326.06 542.55,326.17 540.13,326.3 537.7,326.47 535.27,326.68 532.84,326.93 530.4,327.21 527.96,327.55 525.52,327.93 523.07,328.36 520.63,328.84 518.18,329.38 515.74,329.97 513.3,330.62 510.86,331.34 508.44,332.11 506.02,332.96 503.63,333.87 501.24,334.84 498.88,335.89 496.54,337.01 494.23,338.21 491.95,339.47 489.7,340.82 487.49,342.23 485.32,343.73 483.2,345.29 481.14,346.94 479.12,348.65 477.17,350.44 475.29,352.31 473.47,354.24 471.72,356.25 470.06,358.32 468.48,360.46 466.97,362.65 465.54,364.89 464.18,367.18 462.89,369.51 461.67,371.87 460.5,374.26 459.39,376.68 458.34,379.12 457.35,381.59 456.43,384.08 455.56,386.6 454.76,389.14 454.02,391.69 453.35,394.27 452.74,396.86 452.2,399.47 451.73,402.09 451.33,404.72 451,407.36 450.74,410.01 450.54,412.67 450.42,415.33 450.38,418 450.4,420.67 450.5,423.33 450.67,425.99 450.92,428.64 451.24,431.29 451.64,433.93 452.11,436.55 452.65,439.16 453.27,441.75 453.97,444.32 454.73,446.87 455.58,449.39 456.5,451.89 457.49,454.35 458.57,456.78 459.72,459.18 460.94,461.53 462.24,463.84 463.62,466.1 465.07,468.31 466.59,470.46 468.19,472.56 469.86,474.59 471.6,476.56 473.41,478.46 475.29,480.28 477.22,482.04 479.22,483.71 481.26,485.32 483.34,486.86 485.46,488.33 487.61,489.74 489.78,491.08 491.98,492.37 494.19,493.6 496.41,494.79 498.64,495.93 500.88,497.03 503.12,498.1 505.36,499.14 507.6,500.15 509.84,501.14 512.09,502.1 514.35,503.02 516.61,503.92 518.89,504.77 521.18,505.59 523.49,506.37 525.81,507.09 528.15,507.77 530.5,508.39 532.87,508.96 535.25,509.46 537.64,509.9 540.05,510.27 542.47,510.57 544.9,510.78 547.33,510.92 549.77,510.97 552.2,510.94" fill="none" stroke="#d2e060" stroke-width="2.4" stroke-linejoin="round"/>
<path d="M552.2,511.74 554.65,511.61 557.09,511.39 559.53,511.08 561.94,510.69 564.34,510.23 566.73,509.71 569.09,509.12 571.43,508.49 573.76,507.82 576.08,507.11 578.38,506.37 580.67,505.61 582.95,504.83 585.22,504.02 587.48,503.18 589.74,502.31 591.98,501.4 594.21,500.45 596.43,499.46 598.64,498.43 600.83,497.35 603,496.22 605.15,495.04 607.27,493.8 609.38,492.52 611.46,491.18 613.52,489.8 615.56,488.36 617.57,486.88 619.55,485.35 621.51,483.77 623.44,482.14 625.34,480.47 627.22,478.75 629.06,476.98 630.88,475.17 632.67,473.31 634.43,471.4 636.15,469.45 637.85,467.45 639.5,465.4 641.11,463.3 642.66,461.15 644.15,458.94 645.55,456.67 646.86,454.33 648.06,451.95 649.15,449.5 650.13,447.01 651,444.47 651.75,441.9 652.39,439.3 652.92,436.67 653.35,434.02 653.67,431.36 653.9,428.69 654.04,426.02 654.11,423.34 654.1,420.67 654.03,418 653.9,415.34 653.71,412.68 653.46,410.03 653.15,407.39 652.77,404.76 652.34,402.14 651.84,399.53 651.28,396.94 650.65,394.36 649.96,391.81 649.2,389.27 648.37,386.75 647.48,384.26 646.51,381.8 645.48,379.36 644.38,376.96 643.21,374.59 641.97,372.26 640.67,369.97 639.29,367.72 637.85,365.51 636.34,363.36 634.77,361.25 633.14,359.2 631.44,357.19 629.7,355.25 627.89,353.35 626.04,351.52 624.13,349.74 622.18,348.02 620.18,346.37 618.14,344.77 616.05,343.24 613.93,341.76 611.78,340.36 609.59,339.01 607.37,337.73 605.12,336.52 602.84,335.36 600.54,334.28 598.21,333.26 595.87,332.3 593.5,331.41 591.12,330.58 588.73,329.81 586.32,329.11 583.9,328.47 581.48,327.9 579.04,327.39 576.6,326.94 574.16,326.54 571.71,326.21 569.26,325.94 566.82,325.71 564.37,325.54 561.93,325.4 559.5,325.31 557.06,325.25 554.63,325.22 552.2,325.22 549.77,325.24 547.34,325.29 544.91,325.36 542.47,325.47 540.04,325.61 537.59,325.78 535.15,325.99 532.7,326.24 530.24,326.53 527.78,326.87 525.32,327.26 522.86,327.69 520.39,328.18 517.93,328.72 515.47,329.32 513.01,329.98 510.56,330.7 508.12,331.49 505.69,332.34 503.28,333.26 500.88,334.25 498.5,335.31 496.14,336.44 493.82,337.64 491.52,338.92 489.26,340.27 487.03,341.7 484.85,343.21 482.72,344.79 480.64,346.44 478.62,348.17 476.65,349.98 474.75,351.85 472.92,353.8 471.17,355.82 469.49,357.91 467.9,360.06 466.38,362.27 464.94,364.53 463.58,366.83 462.28,369.18 461.04,371.55 459.87,373.96 458.75,376.39 457.7,378.85 456.7,381.34 455.77,383.85 454.9,386.38 454.09,388.94 453.35,391.51 452.67,394.1 452.06,396.71 451.52,399.34 451.04,401.98 450.64,404.63 450.3,407.29 450.04,409.96 449.85,412.64 449.72,415.32 449.68,418 449.7,420.68 449.8,423.37 449.98,426.05 450.22,428.72 450.55,431.38 450.95,434.04 451.42,436.68 451.97,439.31 452.59,441.91 453.29,444.5 454.06,447.07 454.91,449.61 455.84,452.12 456.84,454.6 457.92,457.05 459.08,459.46 460.31,461.83 461.62,464.15 463,466.43 464.46,468.66 466,470.83 467.6,472.94 469.28,474.99 471.03,476.97 472.85,478.88 474.74,480.72 476.69,482.49 478.7,484.18 480.75,485.8 482.85,487.35 484.98,488.84 487.14,490.26 489.33,491.61 491.54,492.91 493.76,494.16 496,495.35 498.25,496.5 500.5,497.62 502.75,498.69 505.01,499.74 507.26,500.76 509.52,501.76 511.79,502.73 514.06,503.66 516.34,504.56 518.64,505.43 520.95,506.25 523.27,507.03 525.61,507.76 527.96,508.45 530.33,509.07 532.72,509.64 535.12,510.15 537.53,510.59 539.96,510.96 542.4,511.26 544.84,511.48 547.29,511.62 549.75,511.67 552.2,511.64" fill="none" stroke="#76c890" stroke-width="2.4" stroke-linejoin="round"/>
<path d="M552.2,511.14 554.64,511.01 557.06,510.79 559.48,510.48 561.88,510.1 564.26,509.64 566.63,509.11 568.98,508.53 571.31,507.91 573.62,507.24 575.92,506.53 578.21,505.8 580.48,505.04 582.75,504.26 585,503.46 587.25,502.62 589.49,501.76 591.72,500.86 593.94,499.92 596.14,498.94 598.34,497.91 600.51,496.84 602.67,495.72 604.81,494.54 606.92,493.32 609.02,492.04 611.09,490.72 613.13,489.34 615.16,487.92 617.15,486.45 619.13,484.93 621.07,483.36 622.99,481.74 624.89,480.08 626.75,478.37 628.59,476.61 630.4,474.81 632.18,472.97 633.92,471.07 635.64,469.13 637.33,467.15 638.98,465.12 640.58,463.03 642.12,460.89 643.6,458.69 644.99,456.44 646.3,454.12 647.5,451.75 648.58,449.32 649.56,446.84 650.42,444.32 651.17,441.76 651.81,439.17 652.33,436.56 652.75,433.93 653.07,431.28 653.3,428.63 653.44,425.97 653.51,423.31 653.5,420.65 653.43,418 653.3,415.35 653.11,412.71 652.86,410.08 652.55,407.45 652.18,404.84 651.75,402.23 651.25,399.64 650.69,397.06 650.07,394.5 649.38,391.96 648.62,389.44 647.8,386.94 646.91,384.46 645.95,382.01 644.93,379.59 643.83,377.2 642.67,374.85 641.44,372.53 640.14,370.25 638.77,368.02 637.34,365.83 635.84,363.68 634.28,361.59 632.65,359.55 630.97,357.56 629.23,355.62 627.44,353.74 625.59,351.92 623.7,350.15 621.75,348.45 619.77,346.8 617.74,345.22 615.67,343.69 613.56,342.23 611.41,340.83 609.24,339.5 607.03,338.23 604.79,337.02 602.53,335.88 600.24,334.8 597.93,333.78 595.59,332.83 593.25,331.95 590.88,331.13 588.5,330.37 586.11,329.67 583.7,329.04 581.29,328.47 578.87,327.96 576.45,327.51 574.02,327.13 571.59,326.8 569.15,326.53 566.72,326.31 564.29,326.13 561.87,326 559.45,325.91 557.03,325.85 554.61,325.82 552.2,325.82 549.79,325.84 547.37,325.89 544.96,325.96 542.54,326.07 540.11,326.2 537.69,326.37 535.26,326.58 532.82,326.83 530.38,327.12 527.94,327.45 525.49,327.83 523.04,328.26 520.59,328.75 518.14,329.28 515.7,329.88 513.26,330.53 510.82,331.25 508.39,332.02 505.98,332.87 503.58,333.78 501.19,334.76 498.82,335.81 496.48,336.93 494.17,338.13 491.88,339.4 489.64,340.74 487.42,342.16 485.26,343.65 483.14,345.22 481.07,346.87 479.05,348.58 477.1,350.38 475.21,352.24 473.39,354.18 471.64,356.19 469.98,358.26 468.39,360.4 466.89,362.6 465.45,364.84 464.1,367.13 462.8,369.46 461.58,371.83 460.41,374.22 459.3,376.64 458.25,379.08 457.26,381.56 456.33,384.05 455.47,386.57 454.66,389.11 453.92,391.67 453.25,394.24 452.65,396.84 452.11,399.45 451.63,402.07 451.23,404.71 450.9,407.35 450.64,410.01 450.44,412.67 450.32,415.33 450.28,418 450.3,420.67 450.4,423.34 450.57,426 450.82,428.66 451.14,431.3 451.54,433.94 452.01,436.57 452.55,439.18 453.17,441.77 453.87,444.35 454.64,446.9 455.48,449.43 456.4,451.92 457.4,454.39 458.47,456.82 459.62,459.22 460.85,461.57 462.15,463.88 463.53,466.14 464.98,468.36 466.51,470.51 468.11,472.61 469.78,474.65 471.52,476.62 473.33,478.52 475.21,480.35 477.15,482.1 479.14,483.78 481.19,485.39 483.27,486.93 485.39,488.4 487.54,489.81 489.72,491.16 491.92,492.45 494.13,493.68 496.35,494.87 498.59,496.01 500.82,497.11 503.06,498.18 505.31,499.22 507.55,500.24 509.79,501.23 512.05,502.19 514.3,503.11 516.57,504.01 518.85,504.87 521.15,505.69 523.46,506.46 525.78,507.19 528.12,507.87 530.48,508.49 532.85,509.06 535.23,509.56 537.63,510 540.04,510.37 542.46,510.66 544.89,510.88 547.33,511.02 549.76,511.07 552.2,511.04" fill="none" stroke="#4e6ec0" stroke-width="2.4" stroke-linejoin="round"/>
<path d="M552.2,511.44 554.64,511.31 557.08,511.09 559.5,510.78 561.91,510.4 564.3,509.94 566.68,509.41 569.03,508.83 571.37,508.2 573.69,507.53 576,506.82 578.29,506.08 580.57,505.33 582.85,504.55 585.11,503.74 587.37,502.9 589.61,502.03 591.85,501.13 594.07,500.18 596.29,499.2 598.49,498.17 600.67,497.09 602.83,495.97 604.98,494.79 607.1,493.56 609.2,492.28 611.27,490.95 613.33,489.57 615.36,488.14 617.36,486.66 619.34,485.14 621.29,483.56 623.22,481.94 625.11,480.27 626.98,478.56 628.83,476.8 630.64,474.99 632.42,473.14 634.18,471.24 635.9,469.29 637.59,467.3 639.24,465.26 640.85,463.17 642.39,461.02 643.87,458.81 645.27,456.55 646.58,454.23 647.78,451.85 648.87,449.41 649.85,446.92 650.71,444.4 651.46,441.83 652.1,439.23 652.63,436.61 653.05,433.97 653.37,431.32 653.6,428.66 653.74,425.99 653.81,423.33 653.8,420.66 653.73,418 653.6,415.34 653.41,412.7 653.16,410.05 652.85,407.42 652.48,404.8 652.04,402.19 651.55,399.59 650.99,397 650.36,394.43 649.67,391.88 648.91,389.35 648.09,386.84 647.19,384.36 646.23,381.9 645.2,379.48 644.11,377.08 642.94,374.72 641.71,372.39 640.4,370.11 639.03,367.87 637.59,365.67 636.09,363.52 634.52,361.42 632.89,359.37 631.21,357.38 629.46,355.43 627.66,353.55 625.81,351.72 623.91,349.95 621.96,348.24 619.97,346.58 617.94,344.99 615.86,343.46 613.75,342 611.6,340.59 609.41,339.25 607.2,337.98 604.95,336.77 602.68,335.62 600.39,334.54 598.07,333.52 595.73,332.57 593.37,331.68 591,330.85 588.61,330.09 586.21,329.39 583.8,328.76 581.38,328.18 578.96,327.67 576.52,327.22 574.09,326.84 571.65,326.51 569.21,326.23 566.77,326.01 564.33,325.83 561.9,325.7 559.47,325.61 557.05,325.55 554.62,325.52 552.2,325.52 549.78,325.54 547.36,325.59 544.93,325.66 542.51,325.77 540.08,325.91 537.64,326.08 535.2,326.29 532.76,326.54 530.31,326.83 527.86,327.16 525.41,327.54 522.95,327.98 520.49,328.46 518.04,329 515.58,329.6 513.13,330.26 510.69,330.98 508.26,331.76 505.83,332.6 503.43,333.52 501.03,334.5 498.66,335.56 496.31,336.68 493.99,337.88 491.7,339.16 489.45,340.51 487.23,341.93 485.06,343.43 482.93,345 480.85,346.65 478.83,348.38 476.87,350.18 474.98,352.05 473.16,353.99 471.41,356.01 469.74,358.09 468.15,360.23 466.63,362.43 465.2,364.69 463.84,366.98 462.54,369.32 461.31,371.69 460.14,374.09 459.03,376.52 457.97,378.97 456.98,381.45 456.05,383.95 455.18,386.48 454.38,389.02 453.64,391.59 452.96,394.17 452.35,396.78 451.81,399.39 451.34,402.03 450.93,404.67 450.6,407.32 450.34,409.98 450.14,412.65 450.02,415.32 449.98,418 450,420.68 450.1,423.35 450.27,426.02 450.52,428.69 450.84,431.34 451.24,433.99 451.71,436.62 452.26,439.24 452.88,441.84 453.58,444.43 454.35,446.98 455.2,449.52 456.12,452.02 457.12,454.5 458.2,456.94 459.35,459.34 460.58,461.7 461.88,464.02 463.27,466.29 464.72,468.51 466.25,470.67 467.86,472.77 469.53,474.82 471.28,476.79 473.09,478.7 474.98,480.54 476.92,482.3 478.92,483.98 480.97,485.6 483.06,487.14 485.18,488.62 487.34,490.03 489.52,491.38 491.73,492.68 493.95,493.92 496.18,495.11 498.42,496.26 500.66,497.36 502.91,498.44 505.16,499.48 507.41,500.5 509.66,501.49 511.92,502.46 514.18,503.39 516.46,504.29 518.75,505.15 521.05,505.97 523.36,506.75 525.7,507.48 528.04,508.16 530.41,508.78 532.78,509.35 535.18,509.86 537.58,510.3 540,510.67 542.43,510.96 544.87,511.18 547.31,511.32 549.75,511.37 552.2,511.34" fill="none" stroke="#b474b8" stroke-width="2.7" stroke-linejoin="round"/>
</g>
</svg>
</body></html>
